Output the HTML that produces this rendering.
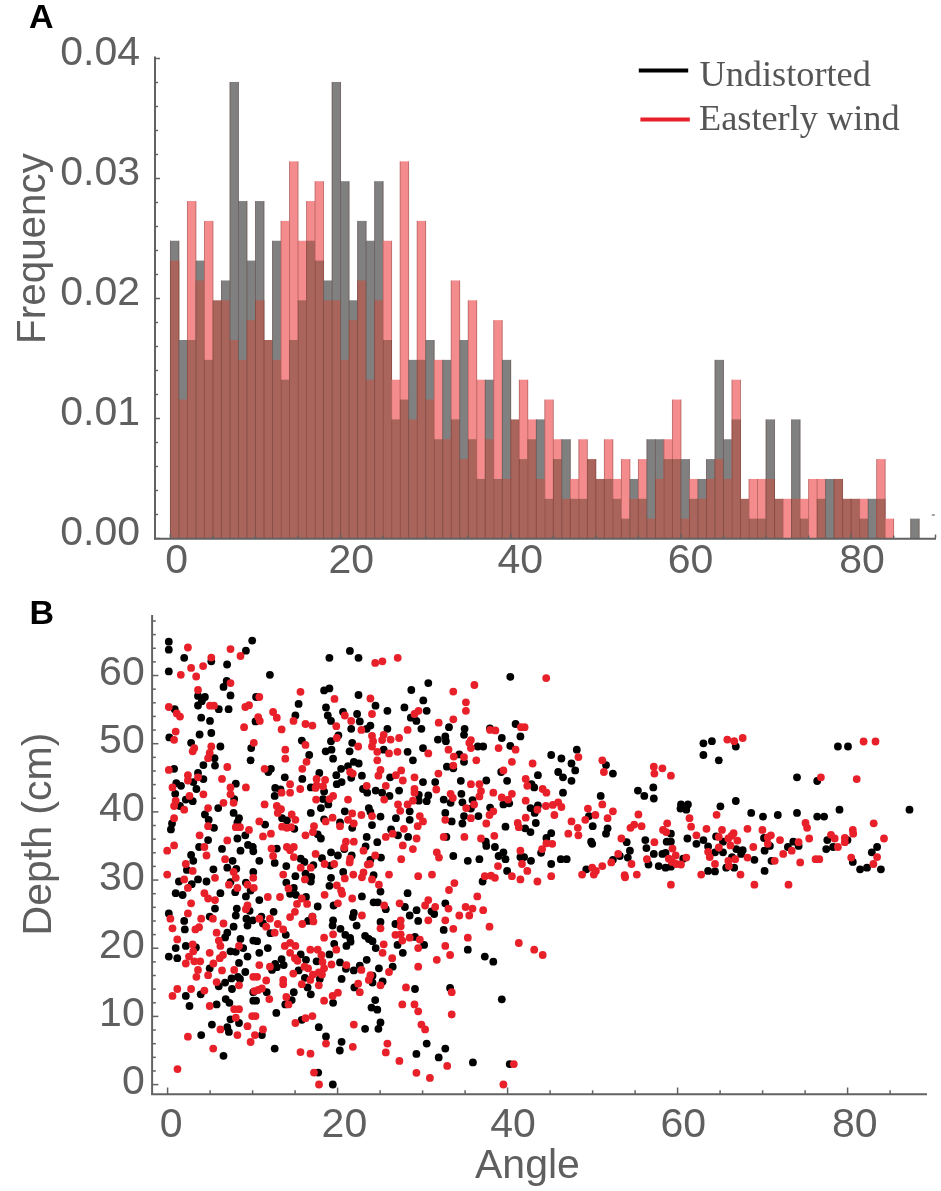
<!DOCTYPE html>
<html><head><meta charset="utf-8"><title>Figure</title>
<style>html,body{margin:0;padding:0;background:#fff;}svg{display:block;will-change:transform;}text{font-family:"Liberation Sans",sans-serif;}</style>
</head><body>
<svg width="941" height="1191" viewBox="0 0 941 1191">
<rect width="941" height="1191" fill="#fff"/>
<g><rect x="170.1" y="240.75" width="9.11" height="297.75" fill="#808080"/><rect x="170.1" y="260.6" width="9.11" height="277.9" fill="#a9655c"/><rect x="178.61" y="340" width="9.11" height="198.5" fill="#808080"/><rect x="178.61" y="399.55" width="9.11" height="138.95" fill="#a9655c"/><rect x="187.12" y="201.05" width="9.11" height="337.45" fill="#f48c8e"/><rect x="187.12" y="340" width="9.11" height="198.5" fill="#a9655c"/><rect x="195.63" y="260.6" width="9.11" height="277.9" fill="#808080"/><rect x="195.63" y="280.45" width="9.11" height="258.05" fill="#a9655c"/><rect x="204.14" y="220.9" width="9.11" height="317.6" fill="#f48c8e"/><rect x="204.14" y="359.85" width="9.11" height="178.65" fill="#a9655c"/><rect x="212.64" y="300.3" width="9.11" height="238.2" fill="#a9655c"/><rect x="221.15" y="280.45" width="9.11" height="258.05" fill="#808080"/><rect x="221.15" y="300.3" width="9.11" height="238.2" fill="#a9655c"/><rect x="229.66" y="81.95" width="9.11" height="456.55" fill="#808080"/><rect x="229.66" y="340" width="9.11" height="198.5" fill="#a9655c"/><rect x="238.17" y="201.05" width="9.11" height="337.45" fill="#808080"/><rect x="238.17" y="359.85" width="9.11" height="178.65" fill="#a9655c"/><rect x="246.68" y="260.6" width="9.11" height="277.9" fill="#808080"/><rect x="246.68" y="320.15" width="9.11" height="218.35" fill="#a9655c"/><rect x="255.19" y="201.05" width="9.11" height="337.45" fill="#808080"/><rect x="255.19" y="300.3" width="9.11" height="238.2" fill="#a9655c"/><rect x="263.7" y="340" width="9.11" height="198.5" fill="#a9655c"/><rect x="272.21" y="240.75" width="9.11" height="297.75" fill="#808080"/><rect x="272.21" y="359.85" width="9.11" height="178.65" fill="#a9655c"/><rect x="280.72" y="220.9" width="9.11" height="317.6" fill="#f48c8e"/><rect x="280.72" y="379.7" width="9.11" height="158.8" fill="#a9655c"/><rect x="289.23" y="161.35" width="9.11" height="377.15" fill="#f48c8e"/><rect x="289.23" y="340" width="9.11" height="198.5" fill="#a9655c"/><rect x="297.74" y="240.75" width="9.11" height="297.75" fill="#f48c8e"/><rect x="297.74" y="300.3" width="9.11" height="238.2" fill="#a9655c"/><rect x="306.24" y="201.05" width="9.11" height="337.45" fill="#f48c8e"/><rect x="306.24" y="240.75" width="9.11" height="297.75" fill="#a9655c"/><rect x="314.75" y="181.2" width="9.11" height="357.3" fill="#f48c8e"/><rect x="314.75" y="260.6" width="9.11" height="277.9" fill="#a9655c"/><rect x="323.26" y="280.45" width="9.11" height="258.05" fill="#808080"/><rect x="323.26" y="300.3" width="9.11" height="238.2" fill="#a9655c"/><rect x="331.77" y="81.95" width="9.11" height="456.55" fill="#808080"/><rect x="331.77" y="300.3" width="9.11" height="238.2" fill="#a9655c"/><rect x="340.28" y="181.2" width="9.11" height="357.3" fill="#808080"/><rect x="340.28" y="359.85" width="9.11" height="178.65" fill="#a9655c"/><rect x="348.79" y="300.3" width="9.11" height="238.2" fill="#808080"/><rect x="348.79" y="320.15" width="9.11" height="218.35" fill="#a9655c"/><rect x="357.3" y="220.9" width="9.11" height="317.6" fill="#808080"/><rect x="357.3" y="280.45" width="9.11" height="258.05" fill="#a9655c"/><rect x="365.81" y="240.75" width="9.11" height="297.75" fill="#808080"/><rect x="365.81" y="379.7" width="9.11" height="158.8" fill="#a9655c"/><rect x="374.32" y="181.2" width="9.11" height="357.3" fill="#808080"/><rect x="374.32" y="300.3" width="9.11" height="238.2" fill="#a9655c"/><rect x="382.82" y="240.75" width="9.11" height="297.75" fill="#f48c8e"/><rect x="382.82" y="340" width="9.11" height="198.5" fill="#a9655c"/><rect x="391.33" y="379.7" width="9.11" height="158.8" fill="#f48c8e"/><rect x="391.33" y="419.4" width="9.11" height="119.1" fill="#a9655c"/><rect x="399.84" y="161.35" width="9.11" height="377.15" fill="#f48c8e"/><rect x="399.84" y="399.55" width="9.11" height="138.95" fill="#a9655c"/><rect x="408.35" y="359.85" width="9.11" height="178.65" fill="#808080"/><rect x="408.35" y="419.4" width="9.11" height="119.1" fill="#a9655c"/><rect x="416.86" y="220.9" width="9.11" height="317.6" fill="#f48c8e"/><rect x="416.86" y="359.85" width="9.11" height="178.65" fill="#a9655c"/><rect x="425.37" y="340" width="9.11" height="198.5" fill="#808080"/><rect x="425.37" y="399.55" width="9.11" height="138.95" fill="#a9655c"/><rect x="433.88" y="359.85" width="9.11" height="178.65" fill="#f48c8e"/><rect x="433.88" y="439.25" width="9.11" height="99.25" fill="#a9655c"/><rect x="442.39" y="359.85" width="9.11" height="178.65" fill="#808080"/><rect x="442.39" y="439.25" width="9.11" height="99.25" fill="#a9655c"/><rect x="450.9" y="280.45" width="9.11" height="258.05" fill="#f48c8e"/><rect x="450.9" y="419.4" width="9.11" height="119.1" fill="#a9655c"/><rect x="459.41" y="340" width="9.11" height="198.5" fill="#808080"/><rect x="459.41" y="459.1" width="9.11" height="79.4" fill="#a9655c"/><rect x="467.92" y="300.3" width="9.11" height="238.2" fill="#f48c8e"/><rect x="467.92" y="439.25" width="9.11" height="99.25" fill="#a9655c"/><rect x="476.42" y="379.7" width="9.11" height="158.8" fill="#f48c8e"/><rect x="476.42" y="478.95" width="9.11" height="59.55" fill="#a9655c"/><rect x="484.93" y="379.7" width="9.11" height="158.8" fill="#808080"/><rect x="484.93" y="439.25" width="9.11" height="99.25" fill="#a9655c"/><rect x="493.44" y="320.15" width="9.11" height="218.35" fill="#f48c8e"/><rect x="493.44" y="478.95" width="9.11" height="59.55" fill="#a9655c"/><rect x="501.95" y="359.85" width="9.11" height="178.65" fill="#808080"/><rect x="501.95" y="478.95" width="9.11" height="59.55" fill="#a9655c"/><rect x="510.46" y="419.4" width="9.11" height="119.1" fill="#a9655c"/><rect x="518.97" y="379.7" width="9.11" height="158.8" fill="#f48c8e"/><rect x="518.97" y="459.1" width="9.11" height="79.4" fill="#a9655c"/><rect x="527.48" y="419.4" width="9.11" height="119.1" fill="#f48c8e"/><rect x="527.48" y="439.25" width="9.11" height="99.25" fill="#a9655c"/><rect x="535.99" y="419.4" width="9.11" height="119.1" fill="#808080"/><rect x="535.99" y="478.95" width="9.11" height="59.55" fill="#a9655c"/><rect x="544.5" y="399.55" width="9.11" height="138.95" fill="#f48c8e"/><rect x="544.5" y="498.8" width="9.11" height="39.7" fill="#a9655c"/><rect x="553.01" y="439.25" width="9.11" height="99.25" fill="#f48c8e"/><rect x="553.01" y="459.1" width="9.11" height="79.4" fill="#a9655c"/><rect x="561.51" y="439.25" width="9.11" height="99.25" fill="#808080"/><rect x="561.51" y="498.8" width="9.11" height="39.7" fill="#a9655c"/><rect x="570.02" y="478.95" width="9.11" height="59.55" fill="#f48c8e"/><rect x="570.02" y="498.8" width="9.11" height="39.7" fill="#a9655c"/><rect x="578.53" y="439.25" width="9.11" height="99.25" fill="#f48c8e"/><rect x="578.53" y="498.8" width="9.11" height="39.7" fill="#a9655c"/><rect x="587.04" y="459.1" width="9.11" height="79.4" fill="#a9655c"/><rect x="595.55" y="478.95" width="9.11" height="59.55" fill="#a9655c"/><rect x="604.06" y="439.25" width="9.11" height="99.25" fill="#f48c8e"/><rect x="604.06" y="478.95" width="9.11" height="59.55" fill="#a9655c"/><rect x="612.57" y="478.95" width="9.11" height="59.55" fill="#f48c8e"/><rect x="612.57" y="498.8" width="9.11" height="39.7" fill="#a9655c"/><rect x="621.08" y="459.1" width="9.11" height="79.4" fill="#f48c8e"/><rect x="621.08" y="518.65" width="9.11" height="19.85" fill="#a9655c"/><rect x="629.59" y="478.95" width="9.11" height="59.55" fill="#808080"/><rect x="629.59" y="498.8" width="9.11" height="39.7" fill="#a9655c"/><rect x="638.1" y="459.1" width="9.11" height="79.4" fill="#f48c8e"/><rect x="638.1" y="498.8" width="9.11" height="39.7" fill="#a9655c"/><rect x="646.6" y="439.25" width="9.11" height="99.25" fill="#808080"/><rect x="646.6" y="518.65" width="9.11" height="19.85" fill="#a9655c"/><rect x="655.11" y="439.25" width="9.11" height="99.25" fill="#808080"/><rect x="655.11" y="478.95" width="9.11" height="59.55" fill="#a9655c"/><rect x="663.62" y="439.25" width="9.11" height="99.25" fill="#f48c8e"/><rect x="663.62" y="459.1" width="9.11" height="79.4" fill="#a9655c"/><rect x="672.13" y="399.55" width="9.11" height="138.95" fill="#f48c8e"/><rect x="672.13" y="459.1" width="9.11" height="79.4" fill="#a9655c"/><rect x="680.64" y="459.1" width="9.11" height="79.4" fill="#808080"/><rect x="680.64" y="518.65" width="9.11" height="19.85" fill="#a9655c"/><rect x="689.15" y="478.95" width="9.11" height="59.55" fill="#f48c8e"/><rect x="689.15" y="498.8" width="9.11" height="39.7" fill="#a9655c"/><rect x="697.66" y="478.95" width="9.11" height="59.55" fill="#808080"/><rect x="697.66" y="498.8" width="9.11" height="39.7" fill="#a9655c"/><rect x="706.17" y="459.1" width="9.11" height="79.4" fill="#808080"/><rect x="706.17" y="478.95" width="9.11" height="59.55" fill="#a9655c"/><rect x="714.68" y="359.85" width="9.11" height="178.65" fill="#808080"/><rect x="714.68" y="459.1" width="9.11" height="79.4" fill="#a9655c"/><rect x="723.19" y="439.25" width="9.11" height="99.25" fill="#808080"/><rect x="723.19" y="478.95" width="9.11" height="59.55" fill="#a9655c"/><rect x="731.69" y="379.7" width="9.11" height="158.8" fill="#f48c8e"/><rect x="731.69" y="419.4" width="9.11" height="119.1" fill="#a9655c"/><rect x="740.2" y="498.8" width="9.11" height="39.7" fill="#a9655c"/><rect x="748.71" y="478.95" width="9.11" height="59.55" fill="#f48c8e"/><rect x="748.71" y="518.65" width="9.11" height="19.85" fill="#a9655c"/><rect x="757.22" y="478.95" width="9.11" height="59.55" fill="#f48c8e"/><rect x="757.22" y="518.65" width="9.11" height="19.85" fill="#a9655c"/><rect x="765.73" y="419.4" width="9.11" height="119.1" fill="#808080"/><rect x="765.73" y="478.95" width="9.11" height="59.55" fill="#a9655c"/><rect x="774.24" y="498.8" width="9.11" height="39.7" fill="#a9655c"/><rect x="782.75" y="498.8" width="9.11" height="39.7" fill="#f48c8e"/><rect x="791.26" y="419.4" width="9.11" height="119.1" fill="#808080"/><rect x="791.26" y="498.8" width="9.11" height="39.7" fill="#a9655c"/><rect x="799.77" y="498.8" width="9.11" height="39.7" fill="#f48c8e"/><rect x="799.77" y="518.65" width="9.11" height="19.85" fill="#a9655c"/><rect x="808.28" y="478.95" width="9.11" height="59.55" fill="#f48c8e"/><rect x="816.78" y="478.95" width="9.11" height="59.55" fill="#f48c8e"/><rect x="816.78" y="498.8" width="9.11" height="39.7" fill="#a9655c"/><rect x="825.29" y="478.95" width="9.11" height="59.55" fill="#808080"/><rect x="833.8" y="478.95" width="9.11" height="59.55" fill="#a9655c"/><rect x="842.31" y="498.8" width="9.11" height="39.7" fill="#a9655c"/><rect x="850.82" y="498.8" width="9.11" height="39.7" fill="#a9655c"/><rect x="859.33" y="498.8" width="9.11" height="39.7" fill="#f48c8e"/><rect x="859.33" y="518.65" width="9.11" height="19.85" fill="#a9655c"/><rect x="867.84" y="498.8" width="9.11" height="39.7" fill="#808080"/><rect x="876.35" y="459.1" width="9.11" height="79.4" fill="#f48c8e"/><rect x="876.35" y="498.8" width="9.11" height="39.7" fill="#a9655c"/><rect x="884.86" y="518.65" width="9.11" height="19.85" fill="#f48c8e"/><rect x="910.38" y="518.65" width="9.11" height="19.85" fill="#808080"/></g>
<g><rect x="169.9" y="240.75" width="1" height="297.75" fill="#3c0a00" fill-opacity="0.28"/><rect x="178.41" y="240.75" width="1" height="297.75" fill="#3c0a00" fill-opacity="0.28"/><rect x="186.92" y="201.05" width="1" height="337.45" fill="#3c0a00" fill-opacity="0.28"/><rect x="195.43" y="201.05" width="1" height="337.45" fill="#3c0a00" fill-opacity="0.28"/><rect x="203.94" y="220.9" width="1" height="317.6" fill="#3c0a00" fill-opacity="0.28"/><rect x="212.44" y="220.9" width="1" height="317.6" fill="#3c0a00" fill-opacity="0.28"/><rect x="220.95" y="280.45" width="1" height="258.05" fill="#3c0a00" fill-opacity="0.28"/><rect x="229.46" y="81.95" width="1" height="456.55" fill="#3c0a00" fill-opacity="0.28"/><rect x="237.97" y="81.95" width="1" height="456.55" fill="#3c0a00" fill-opacity="0.28"/><rect x="246.48" y="201.05" width="1" height="337.45" fill="#3c0a00" fill-opacity="0.28"/><rect x="254.99" y="201.05" width="1" height="337.45" fill="#3c0a00" fill-opacity="0.28"/><rect x="263.5" y="201.05" width="1" height="337.45" fill="#3c0a00" fill-opacity="0.28"/><rect x="272.01" y="240.75" width="1" height="297.75" fill="#3c0a00" fill-opacity="0.28"/><rect x="280.52" y="220.9" width="1" height="317.6" fill="#3c0a00" fill-opacity="0.28"/><rect x="289.03" y="161.35" width="1" height="377.15" fill="#3c0a00" fill-opacity="0.28"/><rect x="297.54" y="161.35" width="1" height="377.15" fill="#3c0a00" fill-opacity="0.28"/><rect x="306.04" y="201.05" width="1" height="337.45" fill="#3c0a00" fill-opacity="0.28"/><rect x="314.55" y="181.2" width="1" height="357.3" fill="#3c0a00" fill-opacity="0.28"/><rect x="323.06" y="181.2" width="1" height="357.3" fill="#3c0a00" fill-opacity="0.28"/><rect x="331.57" y="81.95" width="1" height="456.55" fill="#3c0a00" fill-opacity="0.28"/><rect x="340.08" y="81.95" width="1" height="456.55" fill="#3c0a00" fill-opacity="0.28"/><rect x="348.59" y="181.2" width="1" height="357.3" fill="#3c0a00" fill-opacity="0.28"/><rect x="357.1" y="220.9" width="1" height="317.6" fill="#3c0a00" fill-opacity="0.28"/><rect x="365.61" y="220.9" width="1" height="317.6" fill="#3c0a00" fill-opacity="0.28"/><rect x="374.12" y="181.2" width="1" height="357.3" fill="#3c0a00" fill-opacity="0.28"/><rect x="382.62" y="181.2" width="1" height="357.3" fill="#3c0a00" fill-opacity="0.28"/><rect x="391.13" y="240.75" width="1" height="297.75" fill="#3c0a00" fill-opacity="0.28"/><rect x="399.64" y="161.35" width="1" height="377.15" fill="#3c0a00" fill-opacity="0.28"/><rect x="408.15" y="161.35" width="1" height="377.15" fill="#3c0a00" fill-opacity="0.28"/><rect x="416.66" y="220.9" width="1" height="317.6" fill="#3c0a00" fill-opacity="0.28"/><rect x="425.17" y="220.9" width="1" height="317.6" fill="#3c0a00" fill-opacity="0.28"/><rect x="433.68" y="340" width="1" height="198.5" fill="#3c0a00" fill-opacity="0.28"/><rect x="442.19" y="359.85" width="1" height="178.65" fill="#3c0a00" fill-opacity="0.28"/><rect x="450.7" y="280.45" width="1" height="258.05" fill="#3c0a00" fill-opacity="0.28"/><rect x="459.21" y="280.45" width="1" height="258.05" fill="#3c0a00" fill-opacity="0.28"/><rect x="467.72" y="300.3" width="1" height="238.2" fill="#3c0a00" fill-opacity="0.28"/><rect x="476.22" y="300.3" width="1" height="238.2" fill="#3c0a00" fill-opacity="0.28"/><rect x="484.73" y="379.7" width="1" height="158.8" fill="#3c0a00" fill-opacity="0.28"/><rect x="493.24" y="320.15" width="1" height="218.35" fill="#3c0a00" fill-opacity="0.28"/><rect x="501.75" y="320.15" width="1" height="218.35" fill="#3c0a00" fill-opacity="0.28"/><rect x="510.26" y="359.85" width="1" height="178.65" fill="#3c0a00" fill-opacity="0.28"/><rect x="518.77" y="379.7" width="1" height="158.8" fill="#3c0a00" fill-opacity="0.28"/><rect x="527.28" y="379.7" width="1" height="158.8" fill="#3c0a00" fill-opacity="0.28"/><rect x="535.79" y="419.4" width="1" height="119.1" fill="#3c0a00" fill-opacity="0.28"/><rect x="544.3" y="399.55" width="1" height="138.95" fill="#3c0a00" fill-opacity="0.28"/><rect x="552.81" y="399.55" width="1" height="138.95" fill="#3c0a00" fill-opacity="0.28"/><rect x="561.31" y="439.25" width="1" height="99.25" fill="#3c0a00" fill-opacity="0.28"/><rect x="569.82" y="439.25" width="1" height="99.25" fill="#3c0a00" fill-opacity="0.28"/><rect x="578.33" y="439.25" width="1" height="99.25" fill="#3c0a00" fill-opacity="0.28"/><rect x="586.84" y="439.25" width="1" height="99.25" fill="#3c0a00" fill-opacity="0.28"/><rect x="595.35" y="459.1" width="1" height="79.4" fill="#3c0a00" fill-opacity="0.28"/><rect x="603.86" y="439.25" width="1" height="99.25" fill="#3c0a00" fill-opacity="0.28"/><rect x="612.37" y="439.25" width="1" height="99.25" fill="#3c0a00" fill-opacity="0.28"/><rect x="620.88" y="459.1" width="1" height="79.4" fill="#3c0a00" fill-opacity="0.28"/><rect x="629.39" y="459.1" width="1" height="79.4" fill="#3c0a00" fill-opacity="0.28"/><rect x="637.89" y="459.1" width="1" height="79.4" fill="#3c0a00" fill-opacity="0.28"/><rect x="646.4" y="439.25" width="1" height="99.25" fill="#3c0a00" fill-opacity="0.28"/><rect x="654.91" y="439.25" width="1" height="99.25" fill="#3c0a00" fill-opacity="0.28"/><rect x="663.42" y="439.25" width="1" height="99.25" fill="#3c0a00" fill-opacity="0.28"/><rect x="671.93" y="399.55" width="1" height="138.95" fill="#3c0a00" fill-opacity="0.28"/><rect x="680.44" y="399.55" width="1" height="138.95" fill="#3c0a00" fill-opacity="0.28"/><rect x="688.95" y="459.1" width="1" height="79.4" fill="#3c0a00" fill-opacity="0.28"/><rect x="697.46" y="478.95" width="1" height="59.55" fill="#3c0a00" fill-opacity="0.28"/><rect x="705.97" y="459.1" width="1" height="79.4" fill="#3c0a00" fill-opacity="0.28"/><rect x="714.48" y="359.85" width="1" height="178.65" fill="#3c0a00" fill-opacity="0.28"/><rect x="722.99" y="359.85" width="1" height="178.65" fill="#3c0a00" fill-opacity="0.28"/><rect x="731.49" y="379.7" width="1" height="158.8" fill="#3c0a00" fill-opacity="0.28"/><rect x="740" y="379.7" width="1" height="158.8" fill="#3c0a00" fill-opacity="0.28"/><rect x="748.51" y="478.95" width="1" height="59.55" fill="#3c0a00" fill-opacity="0.28"/><rect x="757.02" y="478.95" width="1" height="59.55" fill="#3c0a00" fill-opacity="0.28"/><rect x="765.53" y="419.4" width="1" height="119.1" fill="#3c0a00" fill-opacity="0.28"/><rect x="774.04" y="419.4" width="1" height="119.1" fill="#3c0a00" fill-opacity="0.28"/><rect x="782.55" y="498.8" width="1" height="39.7" fill="#3c0a00" fill-opacity="0.28"/><rect x="791.06" y="419.4" width="1" height="119.1" fill="#3c0a00" fill-opacity="0.28"/><rect x="799.57" y="419.4" width="1" height="119.1" fill="#3c0a00" fill-opacity="0.28"/><rect x="808.08" y="478.95" width="1" height="59.55" fill="#3c0a00" fill-opacity="0.28"/><rect x="816.58" y="478.95" width="1" height="59.55" fill="#3c0a00" fill-opacity="0.28"/><rect x="825.09" y="478.95" width="1" height="59.55" fill="#3c0a00" fill-opacity="0.28"/><rect x="833.6" y="478.95" width="1" height="59.55" fill="#3c0a00" fill-opacity="0.28"/><rect x="842.11" y="478.95" width="1" height="59.55" fill="#3c0a00" fill-opacity="0.28"/><rect x="850.62" y="498.8" width="1" height="39.7" fill="#3c0a00" fill-opacity="0.28"/><rect x="859.13" y="498.8" width="1" height="39.7" fill="#3c0a00" fill-opacity="0.28"/><rect x="867.64" y="498.8" width="1" height="39.7" fill="#3c0a00" fill-opacity="0.28"/><rect x="876.15" y="459.1" width="1" height="79.4" fill="#3c0a00" fill-opacity="0.28"/><rect x="884.66" y="459.1" width="1" height="79.4" fill="#3c0a00" fill-opacity="0.28"/><rect x="893.16" y="518.65" width="1" height="19.85" fill="#3c0a00" fill-opacity="0.28"/><rect x="910.18" y="518.65" width="1" height="19.85" fill="#3c0a00" fill-opacity="0.28"/><rect x="918.69" y="518.65" width="1" height="19.85" fill="#3c0a00" fill-opacity="0.28"/></g>
<g><line x1="155" y1="56.6" x2="155" y2="539.5" stroke="#626262" stroke-width="2"/><line x1="154" y1="538.8" x2="936" y2="538.8" stroke="#626262" stroke-width="2"/><line x1="155" y1="538.5" x2="160" y2="538.5" stroke="#626262" stroke-width="1.5"/><line x1="155" y1="514.5" x2="158" y2="514.5" stroke="#626262" stroke-width="1.5"/><line x1="155" y1="490.5" x2="158" y2="490.5" stroke="#626262" stroke-width="1.5"/><line x1="155" y1="466.5" x2="158" y2="466.5" stroke="#626262" stroke-width="1.5"/><line x1="155" y1="442.5" x2="158" y2="442.5" stroke="#626262" stroke-width="1.5"/><line x1="155" y1="418.5" x2="160" y2="418.5" stroke="#626262" stroke-width="1.5"/><line x1="155" y1="394.5" x2="158" y2="394.5" stroke="#626262" stroke-width="1.5"/><line x1="155" y1="370.5" x2="158" y2="370.5" stroke="#626262" stroke-width="1.5"/><line x1="155" y1="346.5" x2="158" y2="346.5" stroke="#626262" stroke-width="1.5"/><line x1="155" y1="322.5" x2="158" y2="322.5" stroke="#626262" stroke-width="1.5"/><line x1="155" y1="298.5" x2="160" y2="298.5" stroke="#626262" stroke-width="1.5"/><line x1="155" y1="274.5" x2="158" y2="274.5" stroke="#626262" stroke-width="1.5"/><line x1="155" y1="250.5" x2="158" y2="250.5" stroke="#626262" stroke-width="1.5"/><line x1="155" y1="226.5" x2="158" y2="226.5" stroke="#626262" stroke-width="1.5"/><line x1="155" y1="202.5" x2="158" y2="202.5" stroke="#626262" stroke-width="1.5"/><line x1="155" y1="178.5" x2="160" y2="178.5" stroke="#626262" stroke-width="1.5"/><line x1="155" y1="154.5" x2="158" y2="154.5" stroke="#626262" stroke-width="1.5"/><line x1="155" y1="130.5" x2="158" y2="130.5" stroke="#626262" stroke-width="1.5"/><line x1="155" y1="106.5" x2="158" y2="106.5" stroke="#626262" stroke-width="1.5"/><line x1="155" y1="82.5" x2="158" y2="82.5" stroke="#626262" stroke-width="1.5"/><line x1="155" y1="58.5" x2="160" y2="58.5" stroke="#626262" stroke-width="1.5"/><line x1="170.4" y1="538" x2="170.4" y2="534" stroke="#626262" stroke-width="1.5"/><line x1="212.94" y1="538" x2="212.94" y2="535.5" stroke="#626262" stroke-width="1.5"/><line x1="255.49" y1="538" x2="255.49" y2="535.5" stroke="#626262" stroke-width="1.5"/><line x1="298.04" y1="538" x2="298.04" y2="535.5" stroke="#626262" stroke-width="1.5"/><line x1="340.58" y1="538" x2="340.58" y2="534" stroke="#626262" stroke-width="1.5"/><line x1="383.12" y1="538" x2="383.12" y2="535.5" stroke="#626262" stroke-width="1.5"/><line x1="425.67" y1="538" x2="425.67" y2="535.5" stroke="#626262" stroke-width="1.5"/><line x1="468.22" y1="538" x2="468.22" y2="535.5" stroke="#626262" stroke-width="1.5"/><line x1="510.76" y1="538" x2="510.76" y2="534" stroke="#626262" stroke-width="1.5"/><line x1="553.31" y1="538" x2="553.31" y2="535.5" stroke="#626262" stroke-width="1.5"/><line x1="595.85" y1="538" x2="595.85" y2="535.5" stroke="#626262" stroke-width="1.5"/><line x1="638.39" y1="538" x2="638.39" y2="535.5" stroke="#626262" stroke-width="1.5"/><line x1="680.94" y1="538" x2="680.94" y2="534" stroke="#626262" stroke-width="1.5"/><line x1="723.49" y1="538" x2="723.49" y2="535.5" stroke="#626262" stroke-width="1.5"/><line x1="766.03" y1="538" x2="766.03" y2="535.5" stroke="#626262" stroke-width="1.5"/><line x1="808.58" y1="538" x2="808.58" y2="535.5" stroke="#626262" stroke-width="1.5"/><line x1="851.12" y1="538" x2="851.12" y2="534" stroke="#626262" stroke-width="1.5"/><line x1="893.66" y1="538" x2="893.66" y2="535.5" stroke="#626262" stroke-width="1.5"/><line x1="935.5" y1="538" x2="935.5" y2="534.5" stroke="#626262" stroke-width="1.5"/><line x1="931.8" y1="515" x2="934.8" y2="515" stroke="#626262" stroke-width="1.2"/></g>
<g><line x1="152.1" y1="614.9" x2="152.1" y2="1095" stroke="#626262" stroke-width="2"/><line x1="151.2" y1="1094.2" x2="927" y2="1094.2" stroke="#626262" stroke-width="2"/><line x1="152" y1="1084.6" x2="158.4" y2="1084.6" stroke="#626262" stroke-width="1.5"/><line x1="152" y1="1070.96" x2="155.8" y2="1070.96" stroke="#626262" stroke-width="1.5"/><line x1="152" y1="1057.33" x2="155.8" y2="1057.33" stroke="#626262" stroke-width="1.5"/><line x1="152" y1="1043.69" x2="155.8" y2="1043.69" stroke="#626262" stroke-width="1.5"/><line x1="152" y1="1030.06" x2="155.8" y2="1030.06" stroke="#626262" stroke-width="1.5"/><line x1="152" y1="1016.42" x2="158.4" y2="1016.42" stroke="#626262" stroke-width="1.5"/><line x1="152" y1="1002.78" x2="155.8" y2="1002.78" stroke="#626262" stroke-width="1.5"/><line x1="152" y1="989.15" x2="155.8" y2="989.15" stroke="#626262" stroke-width="1.5"/><line x1="152" y1="975.51" x2="155.8" y2="975.51" stroke="#626262" stroke-width="1.5"/><line x1="152" y1="961.88" x2="155.8" y2="961.88" stroke="#626262" stroke-width="1.5"/><line x1="152" y1="948.24" x2="158.4" y2="948.24" stroke="#626262" stroke-width="1.5"/><line x1="152" y1="934.6" x2="155.8" y2="934.6" stroke="#626262" stroke-width="1.5"/><line x1="152" y1="920.97" x2="155.8" y2="920.97" stroke="#626262" stroke-width="1.5"/><line x1="152" y1="907.33" x2="155.8" y2="907.33" stroke="#626262" stroke-width="1.5"/><line x1="152" y1="893.7" x2="155.8" y2="893.7" stroke="#626262" stroke-width="1.5"/><line x1="152" y1="880.06" x2="158.4" y2="880.06" stroke="#626262" stroke-width="1.5"/><line x1="152" y1="866.42" x2="155.8" y2="866.42" stroke="#626262" stroke-width="1.5"/><line x1="152" y1="852.79" x2="155.8" y2="852.79" stroke="#626262" stroke-width="1.5"/><line x1="152" y1="839.15" x2="155.8" y2="839.15" stroke="#626262" stroke-width="1.5"/><line x1="152" y1="825.52" x2="155.8" y2="825.52" stroke="#626262" stroke-width="1.5"/><line x1="152" y1="811.88" x2="158.4" y2="811.88" stroke="#626262" stroke-width="1.5"/><line x1="152" y1="798.24" x2="155.8" y2="798.24" stroke="#626262" stroke-width="1.5"/><line x1="152" y1="784.61" x2="155.8" y2="784.61" stroke="#626262" stroke-width="1.5"/><line x1="152" y1="770.97" x2="155.8" y2="770.97" stroke="#626262" stroke-width="1.5"/><line x1="152" y1="757.34" x2="155.8" y2="757.34" stroke="#626262" stroke-width="1.5"/><line x1="152" y1="743.7" x2="158.4" y2="743.7" stroke="#626262" stroke-width="1.5"/><line x1="152" y1="730.06" x2="155.8" y2="730.06" stroke="#626262" stroke-width="1.5"/><line x1="152" y1="716.43" x2="155.8" y2="716.43" stroke="#626262" stroke-width="1.5"/><line x1="152" y1="702.79" x2="155.8" y2="702.79" stroke="#626262" stroke-width="1.5"/><line x1="152" y1="689.16" x2="155.8" y2="689.16" stroke="#626262" stroke-width="1.5"/><line x1="152" y1="675.52" x2="158.4" y2="675.52" stroke="#626262" stroke-width="1.5"/><line x1="152" y1="661.88" x2="155.8" y2="661.88" stroke="#626262" stroke-width="1.5"/><line x1="152" y1="648.25" x2="155.8" y2="648.25" stroke="#626262" stroke-width="1.5"/><line x1="152" y1="634.61" x2="155.8" y2="634.61" stroke="#626262" stroke-width="1.5"/><line x1="152" y1="620.98" x2="155.8" y2="620.98" stroke="#626262" stroke-width="1.5"/><line x1="167.6" y1="1094" x2="167.6" y2="1087.5" stroke="#626262" stroke-width="1.5"/><line x1="210.1" y1="1094" x2="210.1" y2="1090.3" stroke="#626262" stroke-width="1.5"/><line x1="252.6" y1="1094" x2="252.6" y2="1090.3" stroke="#626262" stroke-width="1.5"/><line x1="295.1" y1="1094" x2="295.1" y2="1090.3" stroke="#626262" stroke-width="1.5"/><line x1="337.6" y1="1094" x2="337.6" y2="1087.5" stroke="#626262" stroke-width="1.5"/><line x1="380.1" y1="1094" x2="380.1" y2="1090.3" stroke="#626262" stroke-width="1.5"/><line x1="422.6" y1="1094" x2="422.6" y2="1090.3" stroke="#626262" stroke-width="1.5"/><line x1="465.1" y1="1094" x2="465.1" y2="1090.3" stroke="#626262" stroke-width="1.5"/><line x1="507.6" y1="1094" x2="507.6" y2="1087.5" stroke="#626262" stroke-width="1.5"/><line x1="550.1" y1="1094" x2="550.1" y2="1090.3" stroke="#626262" stroke-width="1.5"/><line x1="592.6" y1="1094" x2="592.6" y2="1090.3" stroke="#626262" stroke-width="1.5"/><line x1="635.1" y1="1094" x2="635.1" y2="1090.3" stroke="#626262" stroke-width="1.5"/><line x1="677.6" y1="1094" x2="677.6" y2="1087.5" stroke="#626262" stroke-width="1.5"/><line x1="720.1" y1="1094" x2="720.1" y2="1090.3" stroke="#626262" stroke-width="1.5"/><line x1="762.6" y1="1094" x2="762.6" y2="1090.3" stroke="#626262" stroke-width="1.5"/><line x1="805.1" y1="1094" x2="805.1" y2="1090.3" stroke="#626262" stroke-width="1.5"/><line x1="847.6" y1="1094" x2="847.6" y2="1087.5" stroke="#626262" stroke-width="1.5"/><line x1="890.1" y1="1094" x2="890.1" y2="1090.3" stroke="#626262" stroke-width="1.5"/></g>
<g><circle cx="168.8" cy="641.7" r="3.9" fill="#000"/><circle cx="168.8" cy="649.7" r="3.9" fill="#000"/><circle cx="184.2" cy="657.8" r="3.9" fill="#000"/><circle cx="168.8" cy="671.4" r="3.9" fill="#000"/><circle cx="211.3" cy="661.3" r="3.9" fill="#000"/><circle cx="227.1" cy="664.5" r="3.9" fill="#000"/><circle cx="245.9" cy="650.7" r="3.9" fill="#000"/><circle cx="252.2" cy="640.6" r="3.9" fill="#000"/><circle cx="226.7" cy="681" r="3.9" fill="#000"/><circle cx="223.5" cy="686.9" r="3.9" fill="#000"/><circle cx="230.5" cy="695.4" r="3.9" fill="#000"/><circle cx="198" cy="695.9" r="3.9" fill="#000"/><circle cx="204.9" cy="697" r="3.9" fill="#000"/><circle cx="201.8" cy="701.2" r="3.9" fill="#000"/><circle cx="198" cy="705.5" r="3.9" fill="#000"/><circle cx="174.7" cy="709.2" r="3.9" fill="#000"/><circle cx="218.8" cy="709.2" r="3.9" fill="#000"/><circle cx="228.6" cy="709.2" r="3.9" fill="#000"/><circle cx="201.2" cy="717.7" r="3.9" fill="#000"/><circle cx="210" cy="720.9" r="3.9" fill="#000"/><circle cx="256.1" cy="697" r="3.9" fill="#000"/><circle cx="255.5" cy="721.4" r="3.9" fill="#000"/><circle cx="349.9" cy="650.9" r="3.9" fill="#000"/><circle cx="329.4" cy="657.8" r="3.9" fill="#000"/><circle cx="269.9" cy="674.8" r="3.9" fill="#000"/><circle cx="324.1" cy="690.4" r="3.9" fill="#000"/><circle cx="329.4" cy="688.4" r="3.9" fill="#000"/><circle cx="298.6" cy="703.9" r="3.9" fill="#000"/><circle cx="326" cy="707.4" r="3.9" fill="#000"/><circle cx="295.4" cy="715.5" r="3.9" fill="#000"/><circle cx="327.8" cy="715.5" r="3.9" fill="#000"/><circle cx="331" cy="720.9" r="3.9" fill="#000"/><circle cx="343" cy="711.8" r="3.9" fill="#000"/><circle cx="351.2" cy="728.8" r="3.9" fill="#000"/><circle cx="358.5" cy="657.8" r="3.9" fill="#000"/><circle cx="428.3" cy="683.1" r="3.9" fill="#000"/><circle cx="411.3" cy="690" r="3.9" fill="#000"/><circle cx="358.5" cy="695" r="3.9" fill="#000"/><circle cx="423.3" cy="700.4" r="3.9" fill="#000"/><circle cx="375.5" cy="705.7" r="3.9" fill="#000"/><circle cx="387.4" cy="710.8" r="3.9" fill="#000"/><circle cx="404.4" cy="707.4" r="3.9" fill="#000"/><circle cx="426.7" cy="710.8" r="3.9" fill="#000"/><circle cx="357.1" cy="714" r="3.9" fill="#000"/><circle cx="359.8" cy="721.4" r="3.9" fill="#000"/><circle cx="370.4" cy="725.6" r="3.9" fill="#000"/><circle cx="366.7" cy="728.8" r="3.9" fill="#000"/><circle cx="410.8" cy="717.7" r="3.9" fill="#000"/><circle cx="416.4" cy="720.9" r="3.9" fill="#000"/><circle cx="387.4" cy="728.8" r="3.9" fill="#000"/><circle cx="421.4" cy="728.8" r="3.9" fill="#000"/><circle cx="449" cy="727.2" r="3.9" fill="#000"/><circle cx="510.3" cy="676.8" r="3.9" fill="#000"/><circle cx="515.6" cy="724" r="3.9" fill="#000"/><circle cx="464.6" cy="728.8" r="3.9" fill="#000"/><circle cx="489.9" cy="728.3" r="3.9" fill="#000"/><circle cx="169.3" cy="737.4" r="3.9" fill="#000"/><circle cx="199.6" cy="734.5" r="3.9" fill="#000"/><circle cx="211.3" cy="733" r="3.9" fill="#000"/><circle cx="191.1" cy="742.8" r="3.9" fill="#000"/><circle cx="220.4" cy="746.5" r="3.9" fill="#000"/><circle cx="214.5" cy="758.2" r="3.9" fill="#000"/><circle cx="215" cy="765.6" r="3.9" fill="#000"/><circle cx="203.4" cy="765.1" r="3.9" fill="#000"/><circle cx="251.2" cy="748.1" r="3.9" fill="#000"/><circle cx="250.6" cy="760.3" r="3.9" fill="#000"/><circle cx="174.1" cy="768.8" r="3.9" fill="#000"/><circle cx="198" cy="773" r="3.9" fill="#000"/><circle cx="203.4" cy="779.1" r="3.9" fill="#000"/><circle cx="193.3" cy="782.1" r="3.9" fill="#000"/><circle cx="176.3" cy="783.1" r="3.9" fill="#000"/><circle cx="181" cy="785.8" r="3.9" fill="#000"/><circle cx="196.4" cy="789" r="3.9" fill="#000"/><circle cx="175.2" cy="793.8" r="3.9" fill="#000"/><circle cx="185.8" cy="799.6" r="3.9" fill="#000"/><circle cx="192.7" cy="801.2" r="3.9" fill="#000"/><circle cx="180" cy="806" r="3.9" fill="#000"/><circle cx="235.8" cy="783.7" r="3.9" fill="#000"/><circle cx="234.2" cy="799.1" r="3.9" fill="#000"/><circle cx="218.2" cy="808.1" r="3.9" fill="#000"/><circle cx="233.6" cy="812.9" r="3.9" fill="#000"/><circle cx="239" cy="818.2" r="3.9" fill="#000"/><circle cx="204.9" cy="814.5" r="3.9" fill="#000"/><circle cx="208.7" cy="819.8" r="3.9" fill="#000"/><circle cx="172" cy="823.5" r="3.9" fill="#000"/><circle cx="214" cy="827.8" r="3.9" fill="#000"/><circle cx="170.9" cy="829.4" r="3.9" fill="#000"/><circle cx="237.4" cy="822.5" r="3.9" fill="#000"/><circle cx="301.8" cy="740.6" r="3.9" fill="#000"/><circle cx="309.2" cy="755" r="3.9" fill="#000"/><circle cx="331" cy="741.2" r="3.9" fill="#000"/><circle cx="338.4" cy="735.3" r="3.9" fill="#000"/><circle cx="325.7" cy="751.3" r="3.9" fill="#000"/><circle cx="331.5" cy="749.7" r="3.9" fill="#000"/><circle cx="333.1" cy="758.7" r="3.9" fill="#000"/><circle cx="349.6" cy="751.3" r="3.9" fill="#000"/><circle cx="352.2" cy="742.8" r="3.9" fill="#000"/><circle cx="353.8" cy="761.9" r="3.9" fill="#000"/><circle cx="341.1" cy="768.8" r="3.9" fill="#000"/><circle cx="348" cy="766.1" r="3.9" fill="#000"/><circle cx="270.9" cy="768.8" r="3.9" fill="#000"/><circle cx="268.3" cy="772" r="3.9" fill="#000"/><circle cx="284.8" cy="777.3" r="3.9" fill="#000"/><circle cx="302.3" cy="778.9" r="3.9" fill="#000"/><circle cx="319.3" cy="773" r="3.9" fill="#000"/><circle cx="336.3" cy="775.2" r="3.9" fill="#000"/><circle cx="351.2" cy="777.8" r="3.9" fill="#000"/><circle cx="336.8" cy="784.2" r="3.9" fill="#000"/><circle cx="341.6" cy="782.1" r="3.9" fill="#000"/><circle cx="310.8" cy="787.4" r="3.9" fill="#000"/><circle cx="275.2" cy="787.9" r="3.9" fill="#000"/><circle cx="280.5" cy="789.5" r="3.9" fill="#000"/><circle cx="274.7" cy="795.9" r="3.9" fill="#000"/><circle cx="324.1" cy="791.6" r="3.9" fill="#000"/><circle cx="323" cy="799.1" r="3.9" fill="#000"/><circle cx="328.3" cy="804.4" r="3.9" fill="#000"/><circle cx="320.9" cy="808.1" r="3.9" fill="#000"/><circle cx="310.8" cy="812.9" r="3.9" fill="#000"/><circle cx="344.8" cy="811.3" r="3.9" fill="#000"/><circle cx="282.1" cy="818.2" r="3.9" fill="#000"/><circle cx="286.9" cy="820.3" r="3.9" fill="#000"/><circle cx="265.1" cy="824.6" r="3.9" fill="#000"/><circle cx="324.1" cy="819.3" r="3.9" fill="#000"/><circle cx="340" cy="822.5" r="3.9" fill="#000"/><circle cx="352.2" cy="827.8" r="3.9" fill="#000"/><circle cx="294.3" cy="828.8" r="3.9" fill="#000"/><circle cx="437.9" cy="739.6" r="3.9" fill="#000"/><circle cx="445.3" cy="736.4" r="3.9" fill="#000"/><circle cx="445.9" cy="741.2" r="3.9" fill="#000"/><circle cx="423" cy="748.1" r="3.9" fill="#000"/><circle cx="407.6" cy="751.8" r="3.9" fill="#000"/><circle cx="412.9" cy="760.3" r="3.9" fill="#000"/><circle cx="383.7" cy="749.7" r="3.9" fill="#000"/><circle cx="358.7" cy="763.5" r="3.9" fill="#000"/><circle cx="361.9" cy="775.7" r="3.9" fill="#000"/><circle cx="390.1" cy="777.3" r="3.9" fill="#000"/><circle cx="446.9" cy="766.7" r="3.9" fill="#000"/><circle cx="453.3" cy="768.3" r="3.9" fill="#000"/><circle cx="423" cy="782.1" r="3.9" fill="#000"/><circle cx="435.2" cy="782.1" r="3.9" fill="#000"/><circle cx="363" cy="789" r="3.9" fill="#000"/><circle cx="367.2" cy="792.7" r="3.9" fill="#000"/><circle cx="375.7" cy="790.6" r="3.9" fill="#000"/><circle cx="382.1" cy="792.7" r="3.9" fill="#000"/><circle cx="389.5" cy="795.9" r="3.9" fill="#000"/><circle cx="399.1" cy="790.6" r="3.9" fill="#000"/><circle cx="418.8" cy="794.8" r="3.9" fill="#000"/><circle cx="418.8" cy="800.7" r="3.9" fill="#000"/><circle cx="428.3" cy="795.4" r="3.9" fill="#000"/><circle cx="426.7" cy="801.2" r="3.9" fill="#000"/><circle cx="443.7" cy="799.6" r="3.9" fill="#000"/><circle cx="450.6" cy="802.8" r="3.9" fill="#000"/><circle cx="368.8" cy="808.1" r="3.9" fill="#000"/><circle cx="370.4" cy="811.8" r="3.9" fill="#000"/><circle cx="380.5" cy="816.6" r="3.9" fill="#000"/><circle cx="395.9" cy="818.2" r="3.9" fill="#000"/><circle cx="409.7" cy="811.3" r="3.9" fill="#000"/><circle cx="409.7" cy="819.8" r="3.9" fill="#000"/><circle cx="445.3" cy="812.9" r="3.9" fill="#000"/><circle cx="451.7" cy="821.4" r="3.9" fill="#000"/><circle cx="372" cy="825.1" r="3.9" fill="#000"/><circle cx="391.1" cy="829.4" r="3.9" fill="#000"/><circle cx="464" cy="734.8" r="3.9" fill="#000"/><circle cx="520.4" cy="736.4" r="3.9" fill="#000"/><circle cx="501.8" cy="738" r="3.9" fill="#000"/><circle cx="477.8" cy="746.5" r="3.9" fill="#000"/><circle cx="483.2" cy="746.5" r="3.9" fill="#000"/><circle cx="510.3" cy="745.9" r="3.9" fill="#000"/><circle cx="551.2" cy="755" r="3.9" fill="#000"/><circle cx="459.3" cy="754.4" r="3.9" fill="#000"/><circle cx="464" cy="761.9" r="3.9" fill="#000"/><circle cx="501.2" cy="772" r="3.9" fill="#000"/><circle cx="537.9" cy="775.2" r="3.9" fill="#000"/><circle cx="460.8" cy="780.8" r="3.9" fill="#000"/><circle cx="486.3" cy="780.5" r="3.9" fill="#000"/><circle cx="507.1" cy="780.8" r="3.9" fill="#000"/><circle cx="531.5" cy="784.2" r="3.9" fill="#000"/><circle cx="534.2" cy="787.4" r="3.9" fill="#000"/><circle cx="461.4" cy="793.8" r="3.9" fill="#000"/><circle cx="462.4" cy="802.3" r="3.9" fill="#000"/><circle cx="472.5" cy="800.1" r="3.9" fill="#000"/><circle cx="470.9" cy="808.6" r="3.9" fill="#000"/><circle cx="503.4" cy="804.4" r="3.9" fill="#000"/><circle cx="509.2" cy="803.3" r="3.9" fill="#000"/><circle cx="490.1" cy="807.6" r="3.9" fill="#000"/><circle cx="530.5" cy="808.1" r="3.9" fill="#000"/><circle cx="537.9" cy="805.5" r="3.9" fill="#000"/><circle cx="534.7" cy="812.9" r="3.9" fill="#000"/><circle cx="464" cy="816.1" r="3.9" fill="#000"/><circle cx="478.4" cy="816.1" r="3.9" fill="#000"/><circle cx="462.4" cy="823.5" r="3.9" fill="#000"/><circle cx="535.8" cy="823" r="3.9" fill="#000"/><circle cx="505.5" cy="826.7" r="3.9" fill="#000"/><circle cx="525.1" cy="828.3" r="3.9" fill="#000"/><circle cx="576.8" cy="749.7" r="3.9" fill="#000"/><circle cx="561.4" cy="758.5" r="3.9" fill="#000"/><circle cx="571.5" cy="763.5" r="3.9" fill="#000"/><circle cx="575.2" cy="770.4" r="3.9" fill="#000"/><circle cx="558.2" cy="772" r="3.9" fill="#000"/><circle cx="563" cy="777.3" r="3.9" fill="#000"/><circle cx="571.5" cy="780.8" r="3.9" fill="#000"/><circle cx="563" cy="792.7" r="3.9" fill="#000"/><circle cx="606" cy="765.1" r="3.9" fill="#000"/><circle cx="612.9" cy="773.6" r="3.9" fill="#000"/><circle cx="600.7" cy="795.9" r="3.9" fill="#000"/><circle cx="637.9" cy="790.6" r="3.9" fill="#000"/><circle cx="644.3" cy="795.9" r="3.9" fill="#000"/><circle cx="653.3" cy="787.4" r="3.9" fill="#000"/><circle cx="653.8" cy="798.5" r="3.9" fill="#000"/><circle cx="589" cy="816.1" r="3.9" fill="#000"/><circle cx="592.7" cy="826.2" r="3.9" fill="#000"/><circle cx="607.6" cy="828.3" r="3.9" fill="#000"/><circle cx="703.4" cy="743.3" r="3.9" fill="#000"/><circle cx="711.9" cy="741.2" r="3.9" fill="#000"/><circle cx="735.8" cy="746.5" r="3.9" fill="#000"/><circle cx="703.4" cy="755" r="3.9" fill="#000"/><circle cx="718.8" cy="760.3" r="3.9" fill="#000"/><circle cx="681" cy="804.4" r="3.9" fill="#000"/><circle cx="687.9" cy="804.4" r="3.9" fill="#000"/><circle cx="680.5" cy="808.6" r="3.9" fill="#000"/><circle cx="686.3" cy="809.7" r="3.9" fill="#000"/><circle cx="720.4" cy="806.3" r="3.9" fill="#000"/><circle cx="735.8" cy="801" r="3.9" fill="#000"/><circle cx="751.2" cy="812.9" r="3.9" fill="#000"/><circle cx="837.9" cy="746.5" r="3.9" fill="#000"/><circle cx="848" cy="746.5" r="3.9" fill="#000"/><circle cx="797" cy="777.3" r="3.9" fill="#000"/><circle cx="817.2" cy="781" r="3.9" fill="#000"/><circle cx="763" cy="816.6" r="3.9" fill="#000"/><circle cx="777.8" cy="815" r="3.9" fill="#000"/><circle cx="797" cy="812.9" r="3.9" fill="#000"/><circle cx="817.2" cy="816.6" r="3.9" fill="#000"/><circle cx="824.1" cy="816.6" r="3.9" fill="#000"/><circle cx="839.5" cy="809.7" r="3.9" fill="#000"/><circle cx="909.5" cy="809.7" r="3.9" fill="#000"/><circle cx="245.3" cy="835.3" r="3.9" fill="#000"/><circle cx="237.4" cy="838.5" r="3.9" fill="#000"/><circle cx="208.1" cy="840.1" r="3.9" fill="#000"/><circle cx="199.1" cy="847" r="3.9" fill="#000"/><circle cx="222" cy="848.9" r="3.9" fill="#000"/><circle cx="240.5" cy="850.7" r="3.9" fill="#000"/><circle cx="248" cy="844.9" r="3.9" fill="#000"/><circle cx="252.8" cy="847" r="3.9" fill="#000"/><circle cx="253.3" cy="851.3" r="3.9" fill="#000"/><circle cx="191.1" cy="855" r="3.9" fill="#000"/><circle cx="193.3" cy="860.8" r="3.9" fill="#000"/><circle cx="186.9" cy="869.9" r="3.9" fill="#000"/><circle cx="213.4" cy="869.3" r="3.9" fill="#000"/><circle cx="227.3" cy="867.7" r="3.9" fill="#000"/><circle cx="232.6" cy="860.8" r="3.9" fill="#000"/><circle cx="236.3" cy="868.8" r="3.9" fill="#000"/><circle cx="253.3" cy="872" r="3.9" fill="#000"/><circle cx="178.9" cy="881.5" r="3.9" fill="#000"/><circle cx="191.7" cy="884.2" r="3.9" fill="#000"/><circle cx="198" cy="879.4" r="3.9" fill="#000"/><circle cx="206.5" cy="881.5" r="3.9" fill="#000"/><circle cx="230.5" cy="882.1" r="3.9" fill="#000"/><circle cx="245.9" cy="882.6" r="3.9" fill="#000"/><circle cx="250.6" cy="890.6" r="3.9" fill="#000"/><circle cx="235.2" cy="892.2" r="3.9" fill="#000"/><circle cx="175.7" cy="893.2" r="3.9" fill="#000"/><circle cx="182.6" cy="895" r="3.9" fill="#000"/><circle cx="220.4" cy="893.2" r="3.9" fill="#000"/><circle cx="245.9" cy="896.4" r="3.9" fill="#000"/><circle cx="215" cy="908.6" r="3.9" fill="#000"/><circle cx="236.8" cy="908.6" r="3.9" fill="#000"/><circle cx="249.6" cy="910.8" r="3.9" fill="#000"/><circle cx="168.8" cy="913.4" r="3.9" fill="#000"/><circle cx="209.7" cy="916.6" r="3.9" fill="#000"/><circle cx="235.8" cy="915.5" r="3.9" fill="#000"/><circle cx="246.4" cy="918.7" r="3.9" fill="#000"/><circle cx="252.8" cy="920.3" r="3.9" fill="#000"/><circle cx="184.2" cy="920.9" r="3.9" fill="#000"/><circle cx="233.6" cy="926.7" r="3.9" fill="#000"/><circle cx="247.5" cy="925.6" r="3.9" fill="#000"/><circle cx="184.8" cy="929.4" r="3.9" fill="#000"/><circle cx="317.7" cy="834.3" r="3.9" fill="#000"/><circle cx="320.9" cy="838.5" r="3.9" fill="#000"/><circle cx="276.8" cy="848.6" r="3.9" fill="#000"/><circle cx="259.3" cy="860.8" r="3.9" fill="#000"/><circle cx="274.7" cy="862.9" r="3.9" fill="#000"/><circle cx="286.3" cy="866.1" r="3.9" fill="#000"/><circle cx="300.7" cy="858.7" r="3.9" fill="#000"/><circle cx="304.4" cy="861.9" r="3.9" fill="#000"/><circle cx="295.4" cy="876.2" r="3.9" fill="#000"/><circle cx="305.5" cy="873.6" r="3.9" fill="#000"/><circle cx="311.3" cy="876.8" r="3.9" fill="#000"/><circle cx="310.8" cy="881.5" r="3.9" fill="#000"/><circle cx="313.4" cy="865.1" r="3.9" fill="#000"/><circle cx="322" cy="858.2" r="3.9" fill="#000"/><circle cx="331" cy="852.3" r="3.9" fill="#000"/><circle cx="337.9" cy="855.5" r="3.9" fill="#000"/><circle cx="330.5" cy="865.6" r="3.9" fill="#000"/><circle cx="343.2" cy="872" r="3.9" fill="#000"/><circle cx="344.3" cy="849.1" r="3.9" fill="#000"/><circle cx="351.7" cy="855.5" r="3.9" fill="#000"/><circle cx="286.3" cy="882.6" r="3.9" fill="#000"/><circle cx="293.8" cy="887.9" r="3.9" fill="#000"/><circle cx="290.1" cy="893.8" r="3.9" fill="#000"/><circle cx="295.9" cy="894.8" r="3.9" fill="#000"/><circle cx="306" cy="897" r="3.9" fill="#000"/><circle cx="331" cy="877.8" r="3.9" fill="#000"/><circle cx="329.4" cy="885.8" r="3.9" fill="#000"/><circle cx="259.3" cy="900.1" r="3.9" fill="#000"/><circle cx="317.7" cy="906.5" r="3.9" fill="#000"/><circle cx="333.6" cy="905.5" r="3.9" fill="#000"/><circle cx="273.6" cy="911.8" r="3.9" fill="#000"/><circle cx="261.4" cy="916.6" r="3.9" fill="#000"/><circle cx="263" cy="923.5" r="3.9" fill="#000"/><circle cx="312.4" cy="916.6" r="3.9" fill="#000"/><circle cx="308.1" cy="920.9" r="3.9" fill="#000"/><circle cx="333.1" cy="920.3" r="3.9" fill="#000"/><circle cx="332.6" cy="925.6" r="3.9" fill="#000"/><circle cx="353.8" cy="912.9" r="3.9" fill="#000"/><circle cx="352.8" cy="917.1" r="3.9" fill="#000"/><circle cx="340.5" cy="928.8" r="3.9" fill="#000"/><circle cx="366.7" cy="836.9" r="3.9" fill="#000"/><circle cx="377.3" cy="842.2" r="3.9" fill="#000"/><circle cx="365.6" cy="846.5" r="3.9" fill="#000"/><circle cx="381" cy="857.6" r="3.9" fill="#000"/><circle cx="370.4" cy="859.8" r="3.9" fill="#000"/><circle cx="398" cy="835.3" r="3.9" fill="#000"/><circle cx="408.1" cy="836.9" r="3.9" fill="#000"/><circle cx="446.4" cy="836.9" r="3.9" fill="#000"/><circle cx="453.3" cy="856" r="3.9" fill="#000"/><circle cx="373.6" cy="875.2" r="3.9" fill="#000"/><circle cx="380.5" cy="891.6" r="3.9" fill="#000"/><circle cx="361.9" cy="896.4" r="3.9" fill="#000"/><circle cx="373.6" cy="902.3" r="3.9" fill="#000"/><circle cx="377.8" cy="902.3" r="3.9" fill="#000"/><circle cx="385.8" cy="909.2" r="3.9" fill="#000"/><circle cx="404.9" cy="907" r="3.9" fill="#000"/><circle cx="407.6" cy="893.2" r="3.9" fill="#000"/><circle cx="409.7" cy="915.5" r="3.9" fill="#000"/><circle cx="416.6" cy="910.2" r="3.9" fill="#000"/><circle cx="418.2" cy="920.9" r="3.9" fill="#000"/><circle cx="431.5" cy="911.3" r="3.9" fill="#000"/><circle cx="434.2" cy="914" r="3.9" fill="#000"/><circle cx="445.3" cy="903.3" r="3.9" fill="#000"/><circle cx="356.6" cy="925.6" r="3.9" fill="#000"/><circle cx="380.5" cy="921.9" r="3.9" fill="#000"/><circle cx="395.4" cy="924" r="3.9" fill="#000"/><circle cx="443.7" cy="929.9" r="3.9" fill="#000"/><circle cx="530.5" cy="832.1" r="3.9" fill="#000"/><circle cx="551.2" cy="833.2" r="3.9" fill="#000"/><circle cx="546.4" cy="838" r="3.9" fill="#000"/><circle cx="485.8" cy="841.7" r="3.9" fill="#000"/><circle cx="486.3" cy="845.9" r="3.9" fill="#000"/><circle cx="494.9" cy="847" r="3.9" fill="#000"/><circle cx="503.4" cy="852.3" r="3.9" fill="#000"/><circle cx="498.6" cy="856" r="3.9" fill="#000"/><circle cx="505.5" cy="859.2" r="3.9" fill="#000"/><circle cx="467.8" cy="860.8" r="3.9" fill="#000"/><circle cx="479.4" cy="859.2" r="3.9" fill="#000"/><circle cx="520.4" cy="857.1" r="3.9" fill="#000"/><circle cx="524.1" cy="857.1" r="3.9" fill="#000"/><circle cx="531" cy="860.8" r="3.9" fill="#000"/><circle cx="541.1" cy="852.8" r="3.9" fill="#000"/><circle cx="551.2" cy="864" r="3.9" fill="#000"/><circle cx="507.1" cy="870.9" r="3.9" fill="#000"/><circle cx="482.6" cy="881.5" r="3.9" fill="#000"/><circle cx="606" cy="833.7" r="3.9" fill="#000"/><circle cx="591.1" cy="841.7" r="3.9" fill="#000"/><circle cx="592.2" cy="843.8" r="3.9" fill="#000"/><circle cx="560.8" cy="859.2" r="3.9" fill="#000"/><circle cx="566.7" cy="859.2" r="3.9" fill="#000"/><circle cx="626.7" cy="842.2" r="3.9" fill="#000"/><circle cx="629.9" cy="850.7" r="3.9" fill="#000"/><circle cx="627.8" cy="857.6" r="3.9" fill="#000"/><circle cx="619.8" cy="856" r="3.9" fill="#000"/><circle cx="612.9" cy="859.8" r="3.9" fill="#000"/><circle cx="586.3" cy="869.3" r="3.9" fill="#000"/><circle cx="645.3" cy="840.1" r="3.9" fill="#000"/><circle cx="646.4" cy="848.1" r="3.9" fill="#000"/><circle cx="648.5" cy="864.5" r="3.9" fill="#000"/><circle cx="653.8" cy="853.9" r="3.9" fill="#000"/><circle cx="670.9" cy="833.7" r="3.9" fill="#000"/><circle cx="687.4" cy="838.5" r="3.9" fill="#000"/><circle cx="696.4" cy="843.8" r="3.9" fill="#000"/><circle cx="703.4" cy="840.1" r="3.9" fill="#000"/><circle cx="716.1" cy="836.4" r="3.9" fill="#000"/><circle cx="708.1" cy="846.5" r="3.9" fill="#000"/><circle cx="715" cy="852.3" r="3.9" fill="#000"/><circle cx="723" cy="852.3" r="3.9" fill="#000"/><circle cx="723" cy="841.7" r="3.9" fill="#000"/><circle cx="736.3" cy="849.1" r="3.9" fill="#000"/><circle cx="742.7" cy="850.2" r="3.9" fill="#000"/><circle cx="741.1" cy="853.9" r="3.9" fill="#000"/><circle cx="666.7" cy="841.7" r="3.9" fill="#000"/><circle cx="670.9" cy="841.7" r="3.9" fill="#000"/><circle cx="665.6" cy="852.8" r="3.9" fill="#000"/><circle cx="662.4" cy="853.9" r="3.9" fill="#000"/><circle cx="658.7" cy="866.1" r="3.9" fill="#000"/><circle cx="665.6" cy="867.7" r="3.9" fill="#000"/><circle cx="670.9" cy="866.7" r="3.9" fill="#000"/><circle cx="683.2" cy="858.7" r="3.9" fill="#000"/><circle cx="708.1" cy="870.9" r="3.9" fill="#000"/><circle cx="715" cy="871.4" r="3.9" fill="#000"/><circle cx="726.2" cy="867.7" r="3.9" fill="#000"/><circle cx="734.2" cy="867.7" r="3.9" fill="#000"/><circle cx="732" cy="857.1" r="3.9" fill="#000"/><circle cx="754.4" cy="859.8" r="3.9" fill="#000"/><circle cx="764" cy="838" r="3.9" fill="#000"/><circle cx="769.9" cy="845.9" r="3.9" fill="#000"/><circle cx="764.6" cy="850.7" r="3.9" fill="#000"/><circle cx="793.3" cy="841.7" r="3.9" fill="#000"/><circle cx="787.9" cy="847" r="3.9" fill="#000"/><circle cx="798.6" cy="845.9" r="3.9" fill="#000"/><circle cx="771.5" cy="860.8" r="3.9" fill="#000"/><circle cx="764.6" cy="870.9" r="3.9" fill="#000"/><circle cx="827.3" cy="840.1" r="3.9" fill="#000"/><circle cx="826.2" cy="849.1" r="3.9" fill="#000"/><circle cx="833.1" cy="847" r="3.9" fill="#000"/><circle cx="847.5" cy="840.1" r="3.9" fill="#000"/><circle cx="852.8" cy="861.9" r="3.9" fill="#000"/><circle cx="877.1" cy="847" r="3.9" fill="#000"/><circle cx="871.8" cy="852.3" r="3.9" fill="#000"/><circle cx="860.1" cy="869.3" r="3.9" fill="#000"/><circle cx="867" cy="867.7" r="3.9" fill="#000"/><circle cx="880.9" cy="869.3" r="3.9" fill="#000"/><circle cx="227.3" cy="932.7" r="3.9" fill="#000"/><circle cx="225.1" cy="937.4" r="3.9" fill="#000"/><circle cx="240.5" cy="939" r="3.9" fill="#000"/><circle cx="243.2" cy="948.1" r="3.9" fill="#000"/><circle cx="175.7" cy="948.1" r="3.9" fill="#000"/><circle cx="185.8" cy="945.9" r="3.9" fill="#000"/><circle cx="195.9" cy="947.5" r="3.9" fill="#000"/><circle cx="168.8" cy="956.6" r="3.9" fill="#000"/><circle cx="177.3" cy="958.2" r="3.9" fill="#000"/><circle cx="230.5" cy="951.3" r="3.9" fill="#000"/><circle cx="235.8" cy="951.8" r="3.9" fill="#000"/><circle cx="247.5" cy="956.6" r="3.9" fill="#000"/><circle cx="253.3" cy="940.6" r="3.9" fill="#000"/><circle cx="239" cy="962.9" r="3.9" fill="#000"/><circle cx="209.7" cy="968.3" r="3.9" fill="#000"/><circle cx="245.3" cy="972" r="3.9" fill="#000"/><circle cx="218.8" cy="986.3" r="3.9" fill="#000"/><circle cx="225.1" cy="982.6" r="3.9" fill="#000"/><circle cx="231.5" cy="978.4" r="3.9" fill="#000"/><circle cx="237.9" cy="976.8" r="3.9" fill="#000"/><circle cx="240" cy="978.9" r="3.9" fill="#000"/><circle cx="232" cy="989" r="3.9" fill="#000"/><circle cx="185.8" cy="995.9" r="3.9" fill="#000"/><circle cx="200.7" cy="994.3" r="3.9" fill="#000"/><circle cx="189.5" cy="1006" r="3.9" fill="#000"/><circle cx="216.6" cy="1004.4" r="3.9" fill="#000"/><circle cx="225.7" cy="999.1" r="3.9" fill="#000"/><circle cx="229.4" cy="1002.8" r="3.9" fill="#000"/><circle cx="253.3" cy="992.2" r="3.9" fill="#000"/><circle cx="253.3" cy="1000.7" r="3.9" fill="#000"/><circle cx="230.5" cy="1019.3" r="3.9" fill="#000"/><circle cx="239" cy="1023" r="3.9" fill="#000"/><circle cx="211.9" cy="1024.6" r="3.9" fill="#000"/><circle cx="227.3" cy="1027.2" r="3.9" fill="#000"/><circle cx="270.4" cy="933.2" r="3.9" fill="#000"/><circle cx="285.8" cy="934.8" r="3.9" fill="#000"/><circle cx="345.3" cy="934.8" r="3.9" fill="#000"/><circle cx="350.1" cy="938" r="3.9" fill="#000"/><circle cx="350.6" cy="941.7" r="3.9" fill="#000"/><circle cx="346.4" cy="945.9" r="3.9" fill="#000"/><circle cx="334.2" cy="943.8" r="3.9" fill="#000"/><circle cx="257.1" cy="941.2" r="3.9" fill="#000"/><circle cx="267.8" cy="948.1" r="3.9" fill="#000"/><circle cx="259.3" cy="952.8" r="3.9" fill="#000"/><circle cx="300.7" cy="954.4" r="3.9" fill="#000"/><circle cx="306" cy="959.8" r="3.9" fill="#000"/><circle cx="316.6" cy="961.3" r="3.9" fill="#000"/><circle cx="329.4" cy="954.4" r="3.9" fill="#000"/><circle cx="281.6" cy="959.2" r="3.9" fill="#000"/><circle cx="283.7" cy="965.1" r="3.9" fill="#000"/><circle cx="275.2" cy="964" r="3.9" fill="#000"/><circle cx="276.8" cy="967.2" r="3.9" fill="#000"/><circle cx="272" cy="969.9" r="3.9" fill="#000"/><circle cx="298.6" cy="970.4" r="3.9" fill="#000"/><circle cx="304.9" cy="977.8" r="3.9" fill="#000"/><circle cx="319.8" cy="978.9" r="3.9" fill="#000"/><circle cx="307.6" cy="987.4" r="3.9" fill="#000"/><circle cx="310.8" cy="994.3" r="3.9" fill="#000"/><circle cx="340" cy="962.4" r="3.9" fill="#000"/><circle cx="345.9" cy="968.8" r="3.9" fill="#000"/><circle cx="353.8" cy="970.4" r="3.9" fill="#000"/><circle cx="341.6" cy="978.9" r="3.9" fill="#000"/><circle cx="354.4" cy="987.4" r="3.9" fill="#000"/><circle cx="266.7" cy="992.2" r="3.9" fill="#000"/><circle cx="293.8" cy="992.2" r="3.9" fill="#000"/><circle cx="291.7" cy="1000.1" r="3.9" fill="#000"/><circle cx="285.3" cy="1004.4" r="3.9" fill="#000"/><circle cx="256.1" cy="1000.7" r="3.9" fill="#000"/><circle cx="333.1" cy="1002.8" r="3.9" fill="#000"/><circle cx="276.3" cy="1012.9" r="3.9" fill="#000"/><circle cx="301.8" cy="1019.8" r="3.9" fill="#000"/><circle cx="318.8" cy="1027.2" r="3.9" fill="#000"/><circle cx="365.1" cy="935.8" r="3.9" fill="#000"/><circle cx="368.8" cy="939" r="3.9" fill="#000"/><circle cx="372.5" cy="941.2" r="3.9" fill="#000"/><circle cx="375.7" cy="948.1" r="3.9" fill="#000"/><circle cx="397.5" cy="944.9" r="3.9" fill="#000"/><circle cx="402.8" cy="952.8" r="3.9" fill="#000"/><circle cx="415" cy="936.9" r="3.9" fill="#000"/><circle cx="424.1" cy="944.9" r="3.9" fill="#000"/><circle cx="366.7" cy="959.8" r="3.9" fill="#000"/><circle cx="359.8" cy="965.6" r="3.9" fill="#000"/><circle cx="378.9" cy="968.3" r="3.9" fill="#000"/><circle cx="392.7" cy="966.7" r="3.9" fill="#000"/><circle cx="372.5" cy="975.7" r="3.9" fill="#000"/><circle cx="372.5" cy="982.6" r="3.9" fill="#000"/><circle cx="382.6" cy="981.5" r="3.9" fill="#000"/><circle cx="415" cy="989" r="3.9" fill="#000"/><circle cx="450.1" cy="987.9" r="3.9" fill="#000"/><circle cx="375.2" cy="1000.1" r="3.9" fill="#000"/><circle cx="371.5" cy="1007.6" r="3.9" fill="#000"/><circle cx="377.3" cy="1009.7" r="3.9" fill="#000"/><circle cx="380.5" cy="1022.5" r="3.9" fill="#000"/><circle cx="378.4" cy="1028.8" r="3.9" fill="#000"/><circle cx="365.1" cy="1028.8" r="3.9" fill="#000"/><circle cx="467.8" cy="949.7" r="3.9" fill="#000"/><circle cx="484.8" cy="956.6" r="3.9" fill="#000"/><circle cx="493.3" cy="961.7" r="3.9" fill="#000"/><circle cx="501.8" cy="999.3" r="3.9" fill="#000"/><circle cx="228.9" cy="1031.9" r="3.9" fill="#000"/><circle cx="201.2" cy="1035.1" r="3.9" fill="#000"/><circle cx="223.5" cy="1055.8" r="3.9" fill="#000"/><circle cx="261.9" cy="1035.1" r="3.9" fill="#000"/><circle cx="326" cy="1036.5" r="3.9" fill="#000"/><circle cx="341.6" cy="1041.8" r="3.9" fill="#000"/><circle cx="339.8" cy="1050.5" r="3.9" fill="#000"/><circle cx="274.7" cy="1048.6" r="3.9" fill="#000"/><circle cx="318.2" cy="1072.6" r="3.9" fill="#000"/><circle cx="332.8" cy="1084.5" r="3.9" fill="#000"/><circle cx="426.7" cy="1043.6" r="3.9" fill="#000"/><circle cx="416.4" cy="1053.9" r="3.9" fill="#000"/><circle cx="445.3" cy="1048.6" r="3.9" fill="#000"/><circle cx="438.7" cy="1057.4" r="3.9" fill="#000"/><circle cx="472.9" cy="1062.4" r="3.9" fill="#000"/><circle cx="509.7" cy="1064.1" r="3.9" fill="#000"/><circle cx="187.9" cy="647.5" r="3.9" fill="#e8202a"/><circle cx="230.5" cy="649.1" r="3.9" fill="#e8202a"/><circle cx="240.5" cy="656" r="3.9" fill="#e8202a"/><circle cx="211.3" cy="657.6" r="3.9" fill="#e8202a"/><circle cx="191.1" cy="667.9" r="3.9" fill="#e8202a"/><circle cx="203.1" cy="666.1" r="3.9" fill="#e8202a"/><circle cx="180.8" cy="674.8" r="3.9" fill="#e8202a"/><circle cx="196.2" cy="676.5" r="3.9" fill="#e8202a"/><circle cx="230.5" cy="683.1" r="3.9" fill="#e8202a"/><circle cx="198" cy="690" r="3.9" fill="#e8202a"/><circle cx="168.8" cy="707" r="3.9" fill="#e8202a"/><circle cx="176.8" cy="713.4" r="3.9" fill="#e8202a"/><circle cx="180" cy="716.6" r="3.9" fill="#e8202a"/><circle cx="210" cy="705.7" r="3.9" fill="#e8202a"/><circle cx="214" cy="705.7" r="3.9" fill="#e8202a"/><circle cx="245.3" cy="707" r="3.9" fill="#e8202a"/><circle cx="249" cy="705.2" r="3.9" fill="#e8202a"/><circle cx="244.1" cy="727.2" r="3.9" fill="#e8202a"/><circle cx="259.3" cy="697" r="3.9" fill="#e8202a"/><circle cx="300.5" cy="691.8" r="3.9" fill="#e8202a"/><circle cx="334.5" cy="698.9" r="3.9" fill="#e8202a"/><circle cx="273.1" cy="712" r="3.9" fill="#e8202a"/><circle cx="276.8" cy="717.7" r="3.9" fill="#e8202a"/><circle cx="258.2" cy="717.1" r="3.9" fill="#e8202a"/><circle cx="259.8" cy="720.9" r="3.9" fill="#e8202a"/><circle cx="293.5" cy="720.9" r="3.9" fill="#e8202a"/><circle cx="305.5" cy="724" r="3.9" fill="#e8202a"/><circle cx="312.4" cy="725.6" r="3.9" fill="#e8202a"/><circle cx="336.3" cy="726.2" r="3.9" fill="#e8202a"/><circle cx="344.8" cy="715.5" r="3.9" fill="#e8202a"/><circle cx="351.2" cy="720.9" r="3.9" fill="#e8202a"/><circle cx="281.6" cy="729.4" r="3.9" fill="#e8202a"/><circle cx="375.2" cy="662.9" r="3.9" fill="#e8202a"/><circle cx="382.4" cy="661.3" r="3.9" fill="#e8202a"/><circle cx="397.7" cy="657.8" r="3.9" fill="#e8202a"/><circle cx="370.4" cy="698.5" r="3.9" fill="#e8202a"/><circle cx="372" cy="714" r="3.9" fill="#e8202a"/><circle cx="414.5" cy="714" r="3.9" fill="#e8202a"/><circle cx="418.5" cy="710.8" r="3.9" fill="#e8202a"/><circle cx="453.3" cy="691.6" r="3.9" fill="#e8202a"/><circle cx="453.3" cy="719.3" r="3.9" fill="#e8202a"/><circle cx="438.7" cy="722.7" r="3.9" fill="#e8202a"/><circle cx="407.6" cy="729.9" r="3.9" fill="#e8202a"/><circle cx="361.4" cy="729.9" r="3.9" fill="#e8202a"/><circle cx="474.4" cy="685" r="3.9" fill="#e8202a"/><circle cx="546.2" cy="678.1" r="3.9" fill="#e8202a"/><circle cx="465.9" cy="702.3" r="3.9" fill="#e8202a"/><circle cx="465.9" cy="710.8" r="3.9" fill="#e8202a"/><circle cx="520.9" cy="727.2" r="3.9" fill="#e8202a"/><circle cx="524.6" cy="727.2" r="3.9" fill="#e8202a"/><circle cx="490.1" cy="729.9" r="3.9" fill="#e8202a"/><circle cx="495.4" cy="730.4" r="3.9" fill="#e8202a"/><circle cx="175.7" cy="731.6" r="3.9" fill="#e8202a"/><circle cx="174.1" cy="739.8" r="3.9" fill="#e8202a"/><circle cx="194.3" cy="748.1" r="3.9" fill="#e8202a"/><circle cx="192.7" cy="751.3" r="3.9" fill="#e8202a"/><circle cx="211.3" cy="746.5" r="3.9" fill="#e8202a"/><circle cx="209.7" cy="752.8" r="3.9" fill="#e8202a"/><circle cx="208.1" cy="758.2" r="3.9" fill="#e8202a"/><circle cx="253.8" cy="742.8" r="3.9" fill="#e8202a"/><circle cx="227.3" cy="767" r="3.9" fill="#e8202a"/><circle cx="168.8" cy="769.9" r="3.9" fill="#e8202a"/><circle cx="187.9" cy="775.2" r="3.9" fill="#e8202a"/><circle cx="187.9" cy="780.5" r="3.9" fill="#e8202a"/><circle cx="198" cy="777.3" r="3.9" fill="#e8202a"/><circle cx="222" cy="778.9" r="3.9" fill="#e8202a"/><circle cx="172.5" cy="787.4" r="3.9" fill="#e8202a"/><circle cx="203.4" cy="794.3" r="3.9" fill="#e8202a"/><circle cx="189.5" cy="795.9" r="3.9" fill="#e8202a"/><circle cx="175.7" cy="800.7" r="3.9" fill="#e8202a"/><circle cx="174.1" cy="806" r="3.9" fill="#e8202a"/><circle cx="184.2" cy="809.7" r="3.9" fill="#e8202a"/><circle cx="230.5" cy="787.4" r="3.9" fill="#e8202a"/><circle cx="230.5" cy="794.3" r="3.9" fill="#e8202a"/><circle cx="245.9" cy="787.4" r="3.9" fill="#e8202a"/><circle cx="223.5" cy="802.8" r="3.9" fill="#e8202a"/><circle cx="233.6" cy="802.8" r="3.9" fill="#e8202a"/><circle cx="208.1" cy="808.1" r="3.9" fill="#e8202a"/><circle cx="174.1" cy="818.2" r="3.9" fill="#e8202a"/><circle cx="208.1" cy="826.2" r="3.9" fill="#e8202a"/><circle cx="235.8" cy="827.2" r="3.9" fill="#e8202a"/><circle cx="240" cy="827.2" r="3.9" fill="#e8202a"/><circle cx="249" cy="829.9" r="3.9" fill="#e8202a"/><circle cx="336.8" cy="738" r="3.9" fill="#e8202a"/><circle cx="305.5" cy="744.9" r="3.9" fill="#e8202a"/><circle cx="285.3" cy="749.7" r="3.9" fill="#e8202a"/><circle cx="285.3" cy="758.7" r="3.9" fill="#e8202a"/><circle cx="306.5" cy="761.9" r="3.9" fill="#e8202a"/><circle cx="302.3" cy="768.8" r="3.9" fill="#e8202a"/><circle cx="264.6" cy="768.8" r="3.9" fill="#e8202a"/><circle cx="350.1" cy="772" r="3.9" fill="#e8202a"/><circle cx="352.8" cy="773.6" r="3.9" fill="#e8202a"/><circle cx="290.1" cy="784.2" r="3.9" fill="#e8202a"/><circle cx="300.2" cy="789" r="3.9" fill="#e8202a"/><circle cx="281.6" cy="792.7" r="3.9" fill="#e8202a"/><circle cx="290.1" cy="792.7" r="3.9" fill="#e8202a"/><circle cx="316.6" cy="778.9" r="3.9" fill="#e8202a"/><circle cx="316.6" cy="785.3" r="3.9" fill="#e8202a"/><circle cx="325.1" cy="779.9" r="3.9" fill="#e8202a"/><circle cx="323" cy="786.3" r="3.9" fill="#e8202a"/><circle cx="315.6" cy="787.9" r="3.9" fill="#e8202a"/><circle cx="316.1" cy="799.6" r="3.9" fill="#e8202a"/><circle cx="333.1" cy="795.9" r="3.9" fill="#e8202a"/><circle cx="329.4" cy="799.1" r="3.9" fill="#e8202a"/><circle cx="348" cy="799.6" r="3.9" fill="#e8202a"/><circle cx="264.6" cy="804.4" r="3.9" fill="#e8202a"/><circle cx="276.8" cy="806" r="3.9" fill="#e8202a"/><circle cx="281" cy="809.2" r="3.9" fill="#e8202a"/><circle cx="277.8" cy="812.9" r="3.9" fill="#e8202a"/><circle cx="291.7" cy="814.5" r="3.9" fill="#e8202a"/><circle cx="295.4" cy="819.8" r="3.9" fill="#e8202a"/><circle cx="259.3" cy="821.4" r="3.9" fill="#e8202a"/><circle cx="332.6" cy="817.7" r="3.9" fill="#e8202a"/><circle cx="325.7" cy="821.4" r="3.9" fill="#e8202a"/><circle cx="348" cy="819.8" r="3.9" fill="#e8202a"/><circle cx="352.2" cy="813.4" r="3.9" fill="#e8202a"/><circle cx="353.8" cy="823.5" r="3.9" fill="#e8202a"/><circle cx="340" cy="826.2" r="3.9" fill="#e8202a"/><circle cx="314" cy="826.2" r="3.9" fill="#e8202a"/><circle cx="282.1" cy="826.7" r="3.9" fill="#e8202a"/><circle cx="286.9" cy="827.8" r="3.9" fill="#e8202a"/><circle cx="291.1" cy="827.2" r="3.9" fill="#e8202a"/><circle cx="372" cy="735.8" r="3.9" fill="#e8202a"/><circle cx="383.7" cy="734.8" r="3.9" fill="#e8202a"/><circle cx="382.1" cy="740.1" r="3.9" fill="#e8202a"/><circle cx="373.1" cy="741.2" r="3.9" fill="#e8202a"/><circle cx="372" cy="746.5" r="3.9" fill="#e8202a"/><circle cx="377.3" cy="751.8" r="3.9" fill="#e8202a"/><circle cx="389" cy="753.4" r="3.9" fill="#e8202a"/><circle cx="390.6" cy="739.6" r="3.9" fill="#e8202a"/><circle cx="399.1" cy="738" r="3.9" fill="#e8202a"/><circle cx="397.5" cy="751.8" r="3.9" fill="#e8202a"/><circle cx="428.3" cy="753.4" r="3.9" fill="#e8202a"/><circle cx="448.5" cy="749.7" r="3.9" fill="#e8202a"/><circle cx="453.8" cy="756.6" r="3.9" fill="#e8202a"/><circle cx="453.3" cy="765.6" r="3.9" fill="#e8202a"/><circle cx="358.2" cy="746.5" r="3.9" fill="#e8202a"/><circle cx="377.3" cy="760.3" r="3.9" fill="#e8202a"/><circle cx="380.5" cy="769.9" r="3.9" fill="#e8202a"/><circle cx="378.4" cy="775.7" r="3.9" fill="#e8202a"/><circle cx="395.9" cy="775.2" r="3.9" fill="#e8202a"/><circle cx="401.2" cy="770.4" r="3.9" fill="#e8202a"/><circle cx="402.8" cy="780.5" r="3.9" fill="#e8202a"/><circle cx="414.5" cy="777.3" r="3.9" fill="#e8202a"/><circle cx="438.4" cy="773.6" r="3.9" fill="#e8202a"/><circle cx="366.7" cy="785.8" r="3.9" fill="#e8202a"/><circle cx="385.8" cy="785.8" r="3.9" fill="#e8202a"/><circle cx="384.2" cy="799.6" r="3.9" fill="#e8202a"/><circle cx="414.5" cy="789" r="3.9" fill="#e8202a"/><circle cx="414.5" cy="792.7" r="3.9" fill="#e8202a"/><circle cx="436.3" cy="789.5" r="3.9" fill="#e8202a"/><circle cx="450.6" cy="793.8" r="3.9" fill="#e8202a"/><circle cx="452.8" cy="798" r="3.9" fill="#e8202a"/><circle cx="412.9" cy="800.7" r="3.9" fill="#e8202a"/><circle cx="407.6" cy="804.4" r="3.9" fill="#e8202a"/><circle cx="398" cy="804.4" r="3.9" fill="#e8202a"/><circle cx="400.2" cy="810.8" r="3.9" fill="#e8202a"/><circle cx="361.4" cy="815" r="3.9" fill="#e8202a"/><circle cx="372" cy="816.1" r="3.9" fill="#e8202a"/><circle cx="419.8" cy="816.1" r="3.9" fill="#e8202a"/><circle cx="423" cy="821.4" r="3.9" fill="#e8202a"/><circle cx="417.7" cy="826.2" r="3.9" fill="#e8202a"/><circle cx="403.9" cy="828.8" r="3.9" fill="#e8202a"/><circle cx="445.3" cy="819.8" r="3.9" fill="#e8202a"/><circle cx="470.9" cy="740.1" r="3.9" fill="#e8202a"/><circle cx="469.3" cy="742.8" r="3.9" fill="#e8202a"/><circle cx="470.9" cy="748.1" r="3.9" fill="#e8202a"/><circle cx="498.6" cy="748.1" r="3.9" fill="#e8202a"/><circle cx="515.6" cy="749.7" r="3.9" fill="#e8202a"/><circle cx="464" cy="757.1" r="3.9" fill="#e8202a"/><circle cx="476.3" cy="760.3" r="3.9" fill="#e8202a"/><circle cx="511.9" cy="761.9" r="3.9" fill="#e8202a"/><circle cx="532.6" cy="763.5" r="3.9" fill="#e8202a"/><circle cx="503.4" cy="770.4" r="3.9" fill="#e8202a"/><circle cx="525.7" cy="778.9" r="3.9" fill="#e8202a"/><circle cx="527.3" cy="785.8" r="3.9" fill="#e8202a"/><circle cx="542.7" cy="789" r="3.9" fill="#e8202a"/><circle cx="546.4" cy="792.7" r="3.9" fill="#e8202a"/><circle cx="470.9" cy="784.2" r="3.9" fill="#e8202a"/><circle cx="479.4" cy="784.2" r="3.9" fill="#e8202a"/><circle cx="481" cy="791.1" r="3.9" fill="#e8202a"/><circle cx="479.4" cy="796.4" r="3.9" fill="#e8202a"/><circle cx="493.3" cy="792.7" r="3.9" fill="#e8202a"/><circle cx="501.8" cy="797.5" r="3.9" fill="#e8202a"/><circle cx="508.1" cy="799.6" r="3.9" fill="#e8202a"/><circle cx="511.9" cy="793.8" r="3.9" fill="#e8202a"/><circle cx="525.7" cy="800.7" r="3.9" fill="#e8202a"/><circle cx="474.1" cy="804.4" r="3.9" fill="#e8202a"/><circle cx="466.2" cy="808.1" r="3.9" fill="#e8202a"/><circle cx="493.3" cy="811.3" r="3.9" fill="#e8202a"/><circle cx="489.5" cy="815" r="3.9" fill="#e8202a"/><circle cx="537.4" cy="809.7" r="3.9" fill="#e8202a"/><circle cx="545.9" cy="806" r="3.9" fill="#e8202a"/><circle cx="552.8" cy="804.9" r="3.9" fill="#e8202a"/><circle cx="554.4" cy="815" r="3.9" fill="#e8202a"/><circle cx="470.9" cy="818.2" r="3.9" fill="#e8202a"/><circle cx="486.3" cy="823.5" r="3.9" fill="#e8202a"/><circle cx="525.7" cy="817.7" r="3.9" fill="#e8202a"/><circle cx="517.7" cy="823" r="3.9" fill="#e8202a"/><circle cx="518.8" cy="827.2" r="3.9" fill="#e8202a"/><circle cx="578.4" cy="757.1" r="3.9" fill="#e8202a"/><circle cx="602.3" cy="760.3" r="3.9" fill="#e8202a"/><circle cx="603.9" cy="772" r="3.9" fill="#e8202a"/><circle cx="653.8" cy="766.7" r="3.9" fill="#e8202a"/><circle cx="654.4" cy="773.6" r="3.9" fill="#e8202a"/><circle cx="558.2" cy="802.3" r="3.9" fill="#e8202a"/><circle cx="561.4" cy="807" r="3.9" fill="#e8202a"/><circle cx="602.3" cy="804.4" r="3.9" fill="#e8202a"/><circle cx="587.9" cy="808.6" r="3.9" fill="#e8202a"/><circle cx="595.4" cy="815" r="3.9" fill="#e8202a"/><circle cx="585.3" cy="819.8" r="3.9" fill="#e8202a"/><circle cx="612.9" cy="811.3" r="3.9" fill="#e8202a"/><circle cx="607.6" cy="818.2" r="3.9" fill="#e8202a"/><circle cx="571.5" cy="821.4" r="3.9" fill="#e8202a"/><circle cx="577.8" cy="827.8" r="3.9" fill="#e8202a"/><circle cx="638.4" cy="814.5" r="3.9" fill="#e8202a"/><circle cx="634.2" cy="824.6" r="3.9" fill="#e8202a"/><circle cx="641.6" cy="826.2" r="3.9" fill="#e8202a"/><circle cx="630.5" cy="827.8" r="3.9" fill="#e8202a"/><circle cx="727.3" cy="739.6" r="3.9" fill="#e8202a"/><circle cx="734.2" cy="741.2" r="3.9" fill="#e8202a"/><circle cx="742.7" cy="738" r="3.9" fill="#e8202a"/><circle cx="662.4" cy="768.3" r="3.9" fill="#e8202a"/><circle cx="670.9" cy="775.7" r="3.9" fill="#e8202a"/><circle cx="689.5" cy="818.2" r="3.9" fill="#e8202a"/><circle cx="716.6" cy="814.8" r="3.9" fill="#e8202a"/><circle cx="667.2" cy="823.3" r="3.9" fill="#e8202a"/><circle cx="691.1" cy="826.7" r="3.9" fill="#e8202a"/><circle cx="706.5" cy="828.8" r="3.9" fill="#e8202a"/><circle cx="722" cy="829.9" r="3.9" fill="#e8202a"/><circle cx="747.5" cy="828.8" r="3.9" fill="#e8202a"/><circle cx="663" cy="829.9" r="3.9" fill="#e8202a"/><circle cx="820.9" cy="777.3" r="3.9" fill="#e8202a"/><circle cx="805.5" cy="823" r="3.9" fill="#e8202a"/><circle cx="807.1" cy="827.8" r="3.9" fill="#e8202a"/><circle cx="762.4" cy="829.9" r="3.9" fill="#e8202a"/><circle cx="852.8" cy="829.9" r="3.9" fill="#e8202a"/><circle cx="863.6" cy="741.5" r="3.9" fill="#e8202a"/><circle cx="875.5" cy="741.5" r="3.9" fill="#e8202a"/><circle cx="856.7" cy="779.1" r="3.9" fill="#e8202a"/><circle cx="873.7" cy="823.3" r="3.9" fill="#e8202a"/><circle cx="199.6" cy="835.3" r="3.9" fill="#e8202a"/><circle cx="227.3" cy="840.4" r="3.9" fill="#e8202a"/><circle cx="174.1" cy="845.4" r="3.9" fill="#e8202a"/><circle cx="167.2" cy="850.7" r="3.9" fill="#e8202a"/><circle cx="204.4" cy="847" r="3.9" fill="#e8202a"/><circle cx="206.5" cy="855.5" r="3.9" fill="#e8202a"/><circle cx="225.1" cy="859.2" r="3.9" fill="#e8202a"/><circle cx="185.8" cy="864" r="3.9" fill="#e8202a"/><circle cx="192.7" cy="870.9" r="3.9" fill="#e8202a"/><circle cx="167.2" cy="874.6" r="3.9" fill="#e8202a"/><circle cx="233.6" cy="872" r="3.9" fill="#e8202a"/><circle cx="235.8" cy="877.8" r="3.9" fill="#e8202a"/><circle cx="215" cy="877.8" r="3.9" fill="#e8202a"/><circle cx="184.2" cy="879.4" r="3.9" fill="#e8202a"/><circle cx="187.9" cy="887.9" r="3.9" fill="#e8202a"/><circle cx="228.9" cy="884.7" r="3.9" fill="#e8202a"/><circle cx="237.4" cy="887.9" r="3.9" fill="#e8202a"/><circle cx="247.5" cy="884.7" r="3.9" fill="#e8202a"/><circle cx="253.3" cy="877.8" r="3.9" fill="#e8202a"/><circle cx="253.8" cy="887.9" r="3.9" fill="#e8202a"/><circle cx="204.4" cy="893.2" r="3.9" fill="#e8202a"/><circle cx="208.1" cy="898.5" r="3.9" fill="#e8202a"/><circle cx="215" cy="900.1" r="3.9" fill="#e8202a"/><circle cx="191.1" cy="903.3" r="3.9" fill="#e8202a"/><circle cx="247.5" cy="905.5" r="3.9" fill="#e8202a"/><circle cx="245.9" cy="909.2" r="3.9" fill="#e8202a"/><circle cx="187.9" cy="913.4" r="3.9" fill="#e8202a"/><circle cx="170.4" cy="918.7" r="3.9" fill="#e8202a"/><circle cx="201.2" cy="918.7" r="3.9" fill="#e8202a"/><circle cx="212.9" cy="918.7" r="3.9" fill="#e8202a"/><circle cx="223.5" cy="923.5" r="3.9" fill="#e8202a"/><circle cx="172.5" cy="928.3" r="3.9" fill="#e8202a"/><circle cx="199.1" cy="927.2" r="3.9" fill="#e8202a"/><circle cx="195.4" cy="929.4" r="3.9" fill="#e8202a"/><circle cx="263" cy="836.4" r="3.9" fill="#e8202a"/><circle cx="270.9" cy="833.7" r="3.9" fill="#e8202a"/><circle cx="305.5" cy="835.3" r="3.9" fill="#e8202a"/><circle cx="312.9" cy="832.1" r="3.9" fill="#e8202a"/><circle cx="271.5" cy="848.6" r="3.9" fill="#e8202a"/><circle cx="273.1" cy="856" r="3.9" fill="#e8202a"/><circle cx="286.9" cy="847" r="3.9" fill="#e8202a"/><circle cx="293.8" cy="847" r="3.9" fill="#e8202a"/><circle cx="290.1" cy="850.2" r="3.9" fill="#e8202a"/><circle cx="293.8" cy="857.1" r="3.9" fill="#e8202a"/><circle cx="315.6" cy="853.9" r="3.9" fill="#e8202a"/><circle cx="300.7" cy="867.7" r="3.9" fill="#e8202a"/><circle cx="310.8" cy="867.7" r="3.9" fill="#e8202a"/><circle cx="324.6" cy="864" r="3.9" fill="#e8202a"/><circle cx="334.2" cy="864" r="3.9" fill="#e8202a"/><circle cx="345.9" cy="841.7" r="3.9" fill="#e8202a"/><circle cx="344.3" cy="847.5" r="3.9" fill="#e8202a"/><circle cx="350.1" cy="858.7" r="3.9" fill="#e8202a"/><circle cx="349.6" cy="862.4" r="3.9" fill="#e8202a"/><circle cx="353.8" cy="841.7" r="3.9" fill="#e8202a"/><circle cx="283.2" cy="874.6" r="3.9" fill="#e8202a"/><circle cx="304.9" cy="879.4" r="3.9" fill="#e8202a"/><circle cx="344.8" cy="878.4" r="3.9" fill="#e8202a"/><circle cx="353.3" cy="874.6" r="3.9" fill="#e8202a"/><circle cx="288.5" cy="888.4" r="3.9" fill="#e8202a"/><circle cx="336.8" cy="885.3" r="3.9" fill="#e8202a"/><circle cx="341.1" cy="890.6" r="3.9" fill="#e8202a"/><circle cx="342.1" cy="893.8" r="3.9" fill="#e8202a"/><circle cx="267.8" cy="897" r="3.9" fill="#e8202a"/><circle cx="280" cy="897" r="3.9" fill="#e8202a"/><circle cx="324.6" cy="894.8" r="3.9" fill="#e8202a"/><circle cx="301.8" cy="898.5" r="3.9" fill="#e8202a"/><circle cx="297" cy="903.9" r="3.9" fill="#e8202a"/><circle cx="307.1" cy="903.9" r="3.9" fill="#e8202a"/><circle cx="337.9" cy="903.3" r="3.9" fill="#e8202a"/><circle cx="352.2" cy="898.5" r="3.9" fill="#e8202a"/><circle cx="294.9" cy="911.8" r="3.9" fill="#e8202a"/><circle cx="290.1" cy="917.1" r="3.9" fill="#e8202a"/><circle cx="269.9" cy="918.7" r="3.9" fill="#e8202a"/><circle cx="259.3" cy="918.7" r="3.9" fill="#e8202a"/><circle cx="312.4" cy="916.6" r="3.9" fill="#e8202a"/><circle cx="313.4" cy="921.4" r="3.9" fill="#e8202a"/><circle cx="302.3" cy="924" r="3.9" fill="#e8202a"/><circle cx="277.8" cy="924" r="3.9" fill="#e8202a"/><circle cx="266.2" cy="926.7" r="3.9" fill="#e8202a"/><circle cx="283.2" cy="929.4" r="3.9" fill="#e8202a"/><circle cx="385.8" cy="836.9" r="3.9" fill="#e8202a"/><circle cx="392.7" cy="833.7" r="3.9" fill="#e8202a"/><circle cx="416.6" cy="838.5" r="3.9" fill="#e8202a"/><circle cx="402.8" cy="845.4" r="3.9" fill="#e8202a"/><circle cx="412.9" cy="849.1" r="3.9" fill="#e8202a"/><circle cx="401.2" cy="859.2" r="3.9" fill="#e8202a"/><circle cx="436.8" cy="852.3" r="3.9" fill="#e8202a"/><circle cx="439" cy="857.6" r="3.9" fill="#e8202a"/><circle cx="443.7" cy="836.9" r="3.9" fill="#e8202a"/><circle cx="363.5" cy="850.7" r="3.9" fill="#e8202a"/><circle cx="375.2" cy="855.5" r="3.9" fill="#e8202a"/><circle cx="369.9" cy="864" r="3.9" fill="#e8202a"/><circle cx="367.8" cy="864.5" r="3.9" fill="#e8202a"/><circle cx="361.9" cy="877.3" r="3.9" fill="#e8202a"/><circle cx="363.5" cy="872.5" r="3.9" fill="#e8202a"/><circle cx="389" cy="874.6" r="3.9" fill="#e8202a"/><circle cx="372" cy="879.4" r="3.9" fill="#e8202a"/><circle cx="378.9" cy="884.7" r="3.9" fill="#e8202a"/><circle cx="418.2" cy="876.2" r="3.9" fill="#e8202a"/><circle cx="432" cy="874.6" r="3.9" fill="#e8202a"/><circle cx="454.4" cy="883.1" r="3.9" fill="#e8202a"/><circle cx="449" cy="890" r="3.9" fill="#e8202a"/><circle cx="384.2" cy="905.5" r="3.9" fill="#e8202a"/><circle cx="399.6" cy="903.3" r="3.9" fill="#e8202a"/><circle cx="428.3" cy="900.1" r="3.9" fill="#e8202a"/><circle cx="425.1" cy="905.5" r="3.9" fill="#e8202a"/><circle cx="435.2" cy="907" r="3.9" fill="#e8202a"/><circle cx="448.5" cy="908.6" r="3.9" fill="#e8202a"/><circle cx="361.9" cy="915.5" r="3.9" fill="#e8202a"/><circle cx="400.7" cy="920.3" r="3.9" fill="#e8202a"/><circle cx="400.7" cy="926.2" r="3.9" fill="#e8202a"/><circle cx="428.3" cy="920.3" r="3.9" fill="#e8202a"/><circle cx="445.3" cy="920.3" r="3.9" fill="#e8202a"/><circle cx="380.5" cy="928.3" r="3.9" fill="#e8202a"/><circle cx="453.3" cy="928.8" r="3.9" fill="#e8202a"/><circle cx="464.4" cy="836.9" r="3.9" fill="#e8202a"/><circle cx="481" cy="838.5" r="3.9" fill="#e8202a"/><circle cx="494.3" cy="835.8" r="3.9" fill="#e8202a"/><circle cx="520.4" cy="850.7" r="3.9" fill="#e8202a"/><circle cx="522" cy="864" r="3.9" fill="#e8202a"/><circle cx="527.3" cy="870.9" r="3.9" fill="#e8202a"/><circle cx="542.1" cy="849.1" r="3.9" fill="#e8202a"/><circle cx="546.4" cy="843.3" r="3.9" fill="#e8202a"/><circle cx="552.2" cy="843.8" r="3.9" fill="#e8202a"/><circle cx="498" cy="866.1" r="3.9" fill="#e8202a"/><circle cx="484.8" cy="876.2" r="3.9" fill="#e8202a"/><circle cx="491.1" cy="875.7" r="3.9" fill="#e8202a"/><circle cx="494.9" cy="877.8" r="3.9" fill="#e8202a"/><circle cx="511.9" cy="876.2" r="3.9" fill="#e8202a"/><circle cx="520.4" cy="879.4" r="3.9" fill="#e8202a"/><circle cx="537.4" cy="881.5" r="3.9" fill="#e8202a"/><circle cx="551.2" cy="876.2" r="3.9" fill="#e8202a"/><circle cx="477.3" cy="896.4" r="3.9" fill="#e8202a"/><circle cx="465.6" cy="907" r="3.9" fill="#e8202a"/><circle cx="472.5" cy="908.6" r="3.9" fill="#e8202a"/><circle cx="483.2" cy="910.2" r="3.9" fill="#e8202a"/><circle cx="459.3" cy="915.5" r="3.9" fill="#e8202a"/><circle cx="469.3" cy="915.5" r="3.9" fill="#e8202a"/><circle cx="489.5" cy="926.7" r="3.9" fill="#e8202a"/><circle cx="568.3" cy="833.7" r="3.9" fill="#e8202a"/><circle cx="578.4" cy="835.3" r="3.9" fill="#e8202a"/><circle cx="621.4" cy="838.5" r="3.9" fill="#e8202a"/><circle cx="618.2" cy="853.9" r="3.9" fill="#e8202a"/><circle cx="611.3" cy="862.4" r="3.9" fill="#e8202a"/><circle cx="602.3" cy="866.1" r="3.9" fill="#e8202a"/><circle cx="592.2" cy="867.7" r="3.9" fill="#e8202a"/><circle cx="595.9" cy="870.9" r="3.9" fill="#e8202a"/><circle cx="593.8" cy="874.6" r="3.9" fill="#e8202a"/><circle cx="582.1" cy="874.6" r="3.9" fill="#e8202a"/><circle cx="624.6" cy="875.2" r="3.9" fill="#e8202a"/><circle cx="625.1" cy="877.3" r="3.9" fill="#e8202a"/><circle cx="636.8" cy="874.6" r="3.9" fill="#e8202a"/><circle cx="631.5" cy="864" r="3.9" fill="#e8202a"/><circle cx="646.9" cy="859.2" r="3.9" fill="#e8202a"/><circle cx="654.4" cy="842.2" r="3.9" fill="#e8202a"/><circle cx="666.2" cy="832.1" r="3.9" fill="#e8202a"/><circle cx="733.6" cy="833.2" r="3.9" fill="#e8202a"/><circle cx="696.4" cy="835.3" r="3.9" fill="#e8202a"/><circle cx="718.8" cy="836.9" r="3.9" fill="#e8202a"/><circle cx="728.3" cy="838.5" r="3.9" fill="#e8202a"/><circle cx="731.5" cy="835.8" r="3.9" fill="#e8202a"/><circle cx="737.4" cy="840.6" r="3.9" fill="#e8202a"/><circle cx="730.5" cy="845.4" r="3.9" fill="#e8202a"/><circle cx="718.8" cy="847.5" r="3.9" fill="#e8202a"/><circle cx="708.1" cy="851.8" r="3.9" fill="#e8202a"/><circle cx="709.7" cy="857.1" r="3.9" fill="#e8202a"/><circle cx="715" cy="864" r="3.9" fill="#e8202a"/><circle cx="672.5" cy="848.6" r="3.9" fill="#e8202a"/><circle cx="675.7" cy="855.5" r="3.9" fill="#e8202a"/><circle cx="668.8" cy="858.7" r="3.9" fill="#e8202a"/><circle cx="672" cy="861.9" r="3.9" fill="#e8202a"/><circle cx="676.3" cy="864" r="3.9" fill="#e8202a"/><circle cx="681" cy="864.5" r="3.9" fill="#e8202a"/><circle cx="686.3" cy="857.6" r="3.9" fill="#e8202a"/><circle cx="701.2" cy="874.6" r="3.9" fill="#e8202a"/><circle cx="670.9" cy="884.7" r="3.9" fill="#e8202a"/><circle cx="728.3" cy="860.8" r="3.9" fill="#e8202a"/><circle cx="735.2" cy="859.2" r="3.9" fill="#e8202a"/><circle cx="728.9" cy="866.1" r="3.9" fill="#e8202a"/><circle cx="740.5" cy="874.6" r="3.9" fill="#e8202a"/><circle cx="747.5" cy="857.6" r="3.9" fill="#e8202a"/><circle cx="753.3" cy="847" r="3.9" fill="#e8202a"/><circle cx="754.4" cy="884.7" r="3.9" fill="#e8202a"/><circle cx="770.9" cy="835.3" r="3.9" fill="#e8202a"/><circle cx="767.8" cy="837.4" r="3.9" fill="#e8202a"/><circle cx="780" cy="840.1" r="3.9" fill="#e8202a"/><circle cx="767.8" cy="843.8" r="3.9" fill="#e8202a"/><circle cx="798.6" cy="842.2" r="3.9" fill="#e8202a"/><circle cx="791.7" cy="850.7" r="3.9" fill="#e8202a"/><circle cx="783.2" cy="853.9" r="3.9" fill="#e8202a"/><circle cx="774.7" cy="860.8" r="3.9" fill="#e8202a"/><circle cx="800.2" cy="862.4" r="3.9" fill="#e8202a"/><circle cx="809.2" cy="838.5" r="3.9" fill="#e8202a"/><circle cx="815.6" cy="859.2" r="3.9" fill="#e8202a"/><circle cx="819.3" cy="859.2" r="3.9" fill="#e8202a"/><circle cx="831" cy="834.8" r="3.9" fill="#e8202a"/><circle cx="834.7" cy="838.5" r="3.9" fill="#e8202a"/><circle cx="844.8" cy="838" r="3.9" fill="#e8202a"/><circle cx="844.8" cy="842.2" r="3.9" fill="#e8202a"/><circle cx="837.9" cy="847" r="3.9" fill="#e8202a"/><circle cx="851.2" cy="857.6" r="3.9" fill="#e8202a"/><circle cx="788.5" cy="884.7" r="3.9" fill="#e8202a"/><circle cx="853.2" cy="833.7" r="3.9" fill="#e8202a"/><circle cx="884" cy="838.5" r="3.9" fill="#e8202a"/><circle cx="877.1" cy="857.1" r="3.9" fill="#e8202a"/><circle cx="873.4" cy="864" r="3.9" fill="#e8202a"/><circle cx="216.6" cy="932.7" r="3.9" fill="#e8202a"/><circle cx="177.3" cy="939.4" r="3.9" fill="#e8202a"/><circle cx="192.7" cy="944.3" r="3.9" fill="#e8202a"/><circle cx="193.3" cy="951.3" r="3.9" fill="#e8202a"/><circle cx="189" cy="956.6" r="3.9" fill="#e8202a"/><circle cx="185.8" cy="963.5" r="3.9" fill="#e8202a"/><circle cx="194.3" cy="961.3" r="3.9" fill="#e8202a"/><circle cx="200.2" cy="961.3" r="3.9" fill="#e8202a"/><circle cx="209.7" cy="952.8" r="3.9" fill="#e8202a"/><circle cx="218.8" cy="940.6" r="3.9" fill="#e8202a"/><circle cx="220.4" cy="945.9" r="3.9" fill="#e8202a"/><circle cx="223" cy="955" r="3.9" fill="#e8202a"/><circle cx="219.8" cy="958.2" r="3.9" fill="#e8202a"/><circle cx="213.4" cy="963.5" r="3.9" fill="#e8202a"/><circle cx="239" cy="945.9" r="3.9" fill="#e8202a"/><circle cx="198" cy="969.9" r="3.9" fill="#e8202a"/><circle cx="196.4" cy="976.8" r="3.9" fill="#e8202a"/><circle cx="208.1" cy="975.2" r="3.9" fill="#e8202a"/><circle cx="222" cy="970.4" r="3.9" fill="#e8202a"/><circle cx="234.2" cy="969.9" r="3.9" fill="#e8202a"/><circle cx="216.6" cy="982.1" r="3.9" fill="#e8202a"/><circle cx="239" cy="985.3" r="3.9" fill="#e8202a"/><circle cx="253.3" cy="976.8" r="3.9" fill="#e8202a"/><circle cx="177.3" cy="989" r="3.9" fill="#e8202a"/><circle cx="191.1" cy="989" r="3.9" fill="#e8202a"/><circle cx="172.5" cy="995.9" r="3.9" fill="#e8202a"/><circle cx="204.4" cy="990.6" r="3.9" fill="#e8202a"/><circle cx="209.7" cy="1006" r="3.9" fill="#e8202a"/><circle cx="234.2" cy="1009.2" r="3.9" fill="#e8202a"/><circle cx="239" cy="1009.2" r="3.9" fill="#e8202a"/><circle cx="235.8" cy="1017.7" r="3.9" fill="#e8202a"/><circle cx="252.2" cy="1016.1" r="3.9" fill="#e8202a"/><circle cx="247.5" cy="1026.2" r="3.9" fill="#e8202a"/><circle cx="220.4" cy="1029.4" r="3.9" fill="#e8202a"/><circle cx="254.4" cy="991.1" r="3.9" fill="#e8202a"/><circle cx="274.7" cy="932.7" r="3.9" fill="#e8202a"/><circle cx="333.1" cy="934.3" r="3.9" fill="#e8202a"/><circle cx="324.1" cy="937.7" r="3.9" fill="#e8202a"/><circle cx="336.3" cy="949.7" r="3.9" fill="#e8202a"/><circle cx="284.8" cy="945.9" r="3.9" fill="#e8202a"/><circle cx="290.1" cy="942.8" r="3.9" fill="#e8202a"/><circle cx="295.4" cy="945.9" r="3.9" fill="#e8202a"/><circle cx="290.1" cy="952.8" r="3.9" fill="#e8202a"/><circle cx="294.9" cy="958.2" r="3.9" fill="#e8202a"/><circle cx="297.5" cy="960.8" r="3.9" fill="#e8202a"/><circle cx="310.3" cy="949.7" r="3.9" fill="#e8202a"/><circle cx="317.7" cy="949.7" r="3.9" fill="#e8202a"/><circle cx="321.4" cy="955" r="3.9" fill="#e8202a"/><circle cx="322.5" cy="961.9" r="3.9" fill="#e8202a"/><circle cx="304.4" cy="966.7" r="3.9" fill="#e8202a"/><circle cx="308.1" cy="968.3" r="3.9" fill="#e8202a"/><circle cx="293.3" cy="973.6" r="3.9" fill="#e8202a"/><circle cx="312.9" cy="974.6" r="3.9" fill="#e8202a"/><circle cx="318.8" cy="972.5" r="3.9" fill="#e8202a"/><circle cx="322" cy="974.6" r="3.9" fill="#e8202a"/><circle cx="324.1" cy="968.3" r="3.9" fill="#e8202a"/><circle cx="310.3" cy="979.9" r="3.9" fill="#e8202a"/><circle cx="301.8" cy="984.2" r="3.9" fill="#e8202a"/><circle cx="318.8" cy="985.3" r="3.9" fill="#e8202a"/><circle cx="331.5" cy="964.5" r="3.9" fill="#e8202a"/><circle cx="346.4" cy="965.1" r="3.9" fill="#e8202a"/><circle cx="259.3" cy="965.1" r="3.9" fill="#e8202a"/><circle cx="269.9" cy="966.7" r="3.9" fill="#e8202a"/><circle cx="257.1" cy="976.8" r="3.9" fill="#e8202a"/><circle cx="266.2" cy="980.5" r="3.9" fill="#e8202a"/><circle cx="283.2" cy="979.9" r="3.9" fill="#e8202a"/><circle cx="283.2" cy="984.2" r="3.9" fill="#e8202a"/><circle cx="258.2" cy="990" r="3.9" fill="#e8202a"/><circle cx="261.9" cy="988.4" r="3.9" fill="#e8202a"/><circle cx="269.3" cy="999.1" r="3.9" fill="#e8202a"/><circle cx="286.3" cy="997" r="3.9" fill="#e8202a"/><circle cx="288.5" cy="1004.4" r="3.9" fill="#e8202a"/><circle cx="324.1" cy="1000.7" r="3.9" fill="#e8202a"/><circle cx="332.6" cy="995.9" r="3.9" fill="#e8202a"/><circle cx="337.9" cy="992.7" r="3.9" fill="#e8202a"/><circle cx="305.5" cy="1018.2" r="3.9" fill="#e8202a"/><circle cx="312.4" cy="1016.1" r="3.9" fill="#e8202a"/><circle cx="295.4" cy="1023" r="3.9" fill="#e8202a"/><circle cx="255.5" cy="1016.1" r="3.9" fill="#e8202a"/><circle cx="353.8" cy="1024.6" r="3.9" fill="#e8202a"/><circle cx="263" cy="1029.4" r="3.9" fill="#e8202a"/><circle cx="395.4" cy="934.8" r="3.9" fill="#e8202a"/><circle cx="400.7" cy="934.3" r="3.9" fill="#e8202a"/><circle cx="402.3" cy="940.6" r="3.9" fill="#e8202a"/><circle cx="409.7" cy="937.7" r="3.9" fill="#e8202a"/><circle cx="419.8" cy="939.6" r="3.9" fill="#e8202a"/><circle cx="418.2" cy="948.1" r="3.9" fill="#e8202a"/><circle cx="383.7" cy="944.3" r="3.9" fill="#e8202a"/><circle cx="382.6" cy="952.8" r="3.9" fill="#e8202a"/><circle cx="392.2" cy="958.2" r="3.9" fill="#e8202a"/><circle cx="418.2" cy="966.7" r="3.9" fill="#e8202a"/><circle cx="436.8" cy="959.8" r="3.9" fill="#e8202a"/><circle cx="445.3" cy="945.9" r="3.9" fill="#e8202a"/><circle cx="450.1" cy="955" r="3.9" fill="#e8202a"/><circle cx="361.4" cy="969.9" r="3.9" fill="#e8202a"/><circle cx="389" cy="972" r="3.9" fill="#e8202a"/><circle cx="370.4" cy="975.2" r="3.9" fill="#e8202a"/><circle cx="368.8" cy="979.9" r="3.9" fill="#e8202a"/><circle cx="358.2" cy="983.7" r="3.9" fill="#e8202a"/><circle cx="380.5" cy="985.3" r="3.9" fill="#e8202a"/><circle cx="359.8" cy="992.2" r="3.9" fill="#e8202a"/><circle cx="406" cy="987.4" r="3.9" fill="#e8202a"/><circle cx="451.7" cy="992.2" r="3.9" fill="#e8202a"/><circle cx="402.3" cy="1004.4" r="3.9" fill="#e8202a"/><circle cx="414.5" cy="1004.4" r="3.9" fill="#e8202a"/><circle cx="418.2" cy="1011.3" r="3.9" fill="#e8202a"/><circle cx="451.7" cy="1014.5" r="3.9" fill="#e8202a"/><circle cx="421.4" cy="1024.6" r="3.9" fill="#e8202a"/><circle cx="425.1" cy="1029.4" r="3.9" fill="#e8202a"/><circle cx="467.8" cy="937.7" r="3.9" fill="#e8202a"/><circle cx="518.8" cy="943" r="3.9" fill="#e8202a"/><circle cx="534.2" cy="949.7" r="3.9" fill="#e8202a"/><circle cx="542.7" cy="955" r="3.9" fill="#e8202a"/><circle cx="187.9" cy="1036.7" r="3.9" fill="#e8202a"/><circle cx="237.4" cy="1035.1" r="3.9" fill="#e8202a"/><circle cx="250.6" cy="1042" r="3.9" fill="#e8202a"/><circle cx="254.9" cy="1035.1" r="3.9" fill="#e8202a"/><circle cx="213.2" cy="1048.6" r="3.9" fill="#e8202a"/><circle cx="177.5" cy="1069.1" r="3.9" fill="#e8202a"/><circle cx="326" cy="1043.6" r="3.9" fill="#e8202a"/><circle cx="352.8" cy="1046.8" r="3.9" fill="#e8202a"/><circle cx="300.5" cy="1052.1" r="3.9" fill="#e8202a"/><circle cx="310.5" cy="1053.7" r="3.9" fill="#e8202a"/><circle cx="314" cy="1072.6" r="3.9" fill="#e8202a"/><circle cx="319" cy="1084.5" r="3.9" fill="#e8202a"/><circle cx="387.4" cy="1043.6" r="3.9" fill="#e8202a"/><circle cx="385.8" cy="1052.4" r="3.9" fill="#e8202a"/><circle cx="399.4" cy="1060.9" r="3.9" fill="#e8202a"/><circle cx="416.4" cy="1072.8" r="3.9" fill="#e8202a"/><circle cx="429.9" cy="1077.9" r="3.9" fill="#e8202a"/><circle cx="447.2" cy="1065.9" r="3.9" fill="#e8202a"/><circle cx="513.8" cy="1064.1" r="3.9" fill="#e8202a"/><circle cx="503.4" cy="1084.5" r="3.9" fill="#e8202a"/></g>
<g style="font-family:'Liberation Sans',sans-serif"><text x="140" y="545.2" font-size="41" text-anchor="end" fill="#5f5f5f" >0.00</text><text x="140" y="425.2" font-size="41" text-anchor="end" fill="#5f5f5f" >0.01</text><text x="140" y="305.2" font-size="41" text-anchor="end" fill="#5f5f5f" >0.02</text><text x="140" y="185.2" font-size="41" text-anchor="end" fill="#5f5f5f" >0.03</text><text x="140" y="65.2" font-size="41" text-anchor="end" fill="#5f5f5f" >0.04</text><text x="165.2" y="573.2" font-size="41" text-anchor="start" fill="#5f5f5f" >0</text><text x="328.4" y="573.2" font-size="41" text-anchor="start" fill="#5f5f5f" >20</text><text x="497.5" y="573.2" font-size="41" text-anchor="start" fill="#5f5f5f" >40</text><text x="667.8" y="573.2" font-size="41" text-anchor="start" fill="#5f5f5f" >60</text><text x="839.2" y="573.2" font-size="41" text-anchor="start" fill="#5f5f5f" >80</text><text x="144.7" y="1094.2" font-size="41" text-anchor="end" fill="#5f5f5f" >0</text><text x="144.7" y="1026.02" font-size="41" text-anchor="end" fill="#5f5f5f" >10</text><text x="144.7" y="957.84" font-size="41" text-anchor="end" fill="#5f5f5f" >20</text><text x="144.7" y="889.66" font-size="41" text-anchor="end" fill="#5f5f5f" >30</text><text x="144.7" y="821.48" font-size="41" text-anchor="end" fill="#5f5f5f" >40</text><text x="144.7" y="753.3" font-size="41" text-anchor="end" fill="#5f5f5f" >50</text><text x="144.7" y="685.12" font-size="41" text-anchor="end" fill="#5f5f5f" >60</text><text x="159.7" y="1137.2" font-size="41" text-anchor="start" fill="#5f5f5f" >0</text><text x="321.6" y="1137.2" font-size="41" text-anchor="start" fill="#5f5f5f" >20</text><text x="490.2" y="1137.2" font-size="41" text-anchor="start" fill="#5f5f5f" >40</text><text x="660.4" y="1137.2" font-size="41" text-anchor="start" fill="#5f5f5f" >60</text><text x="831.9" y="1137.2" font-size="41" text-anchor="start" fill="#5f5f5f" >80</text><text x="475" y="1178.2" font-size="41" text-anchor="start" fill="#5f5f5f" >Angle</text><text transform="translate(45,248.5) rotate(-90)" font-size="40.4" text-anchor="middle" fill="#5f5f5f">Frequency</text><text transform="translate(50.7,834.1) rotate(-90)" font-size="41" text-anchor="middle" fill="#5f5f5f">Depth (cm)</text><text x="28.9" y="27.9" font-size="34" text-anchor="start" fill="#000" font-weight="bold">A</text><text x="29.6" y="624" font-size="34" text-anchor="start" fill="#000" font-weight="bold">B</text><line x1="638.8" y1="70.6" x2="688.2" y2="70.6" stroke="#000" stroke-width="4"/><line x1="640.4" y1="119.6" x2="689.8" y2="119.6" stroke="#e8202a" stroke-width="4"/><text x="699.5" y="85.6" font-size="36.3" text-anchor="start" fill="#555" style="font-family:'Liberation Serif',serif">Undistorted</text><text x="699" y="129.6" font-size="36.3" text-anchor="start" fill="#555" style="font-family:'Liberation Serif',serif">Easterly wind</text></g>
</svg>
</body></html>
